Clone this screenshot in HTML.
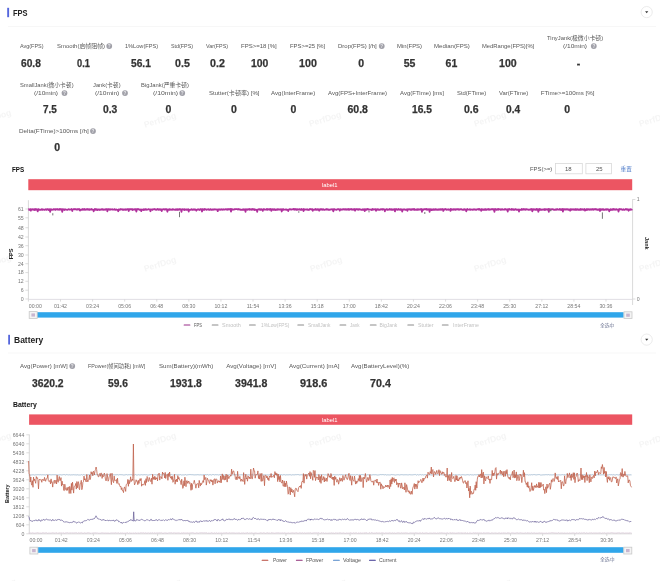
<!DOCTYPE html>
<html><head><meta charset="utf-8"><style>
html,body{margin:0;padding:0;background:#fff;width:660px;height:581px;overflow:hidden}
.t{position:absolute;white-space:nowrap}
svg{position:absolute;left:0;top:0}
</style></head><body>
<svg width="660" height="581" viewBox="0 0 660 581">
<text x="-5" y="120" font-size="8.6" font-weight="bold" fill="#f5f5f5" text-anchor="middle" transform="rotate(-17 -5 117)" font-family="Liberation Sans">PerfDog</text><text x="160" y="123" font-size="8.6" font-weight="bold" fill="#f5f5f5" text-anchor="middle" transform="rotate(-17 160 120)" font-family="Liberation Sans">PerfDog</text><text x="325" y="122" font-size="8.6" font-weight="bold" fill="#f5f5f5" text-anchor="middle" transform="rotate(-17 325 119)" font-family="Liberation Sans">PerfDog</text><text x="490" y="122" font-size="8.6" font-weight="bold" fill="#f5f5f5" text-anchor="middle" transform="rotate(-17 490 119)" font-family="Liberation Sans">PerfDog</text><text x="655" y="122" font-size="8.6" font-weight="bold" fill="#f5f5f5" text-anchor="middle" transform="rotate(-17 655 119)" font-family="Liberation Sans">PerfDog</text><text x="-5" y="265" font-size="8.6" font-weight="bold" fill="#f5f5f5" text-anchor="middle" transform="rotate(-17 -5 262)" font-family="Liberation Sans">PerfDog</text><text x="160" y="267" font-size="8.6" font-weight="bold" fill="#f5f5f5" text-anchor="middle" transform="rotate(-17 160 264)" font-family="Liberation Sans">PerfDog</text><text x="326" y="267" font-size="8.6" font-weight="bold" fill="#f5f5f5" text-anchor="middle" transform="rotate(-17 326 264)" font-family="Liberation Sans">PerfDog</text><text x="490" y="267" font-size="8.6" font-weight="bold" fill="#f5f5f5" text-anchor="middle" transform="rotate(-17 490 264)" font-family="Liberation Sans">PerfDog</text><text x="655" y="267" font-size="8.6" font-weight="bold" fill="#f5f5f5" text-anchor="middle" transform="rotate(-17 655 264)" font-family="Liberation Sans">PerfDog</text><text x="-5" y="443" font-size="8.6" font-weight="bold" fill="#f5f5f5" text-anchor="middle" transform="rotate(-17 -5 440)" font-family="Liberation Sans">PerfDog</text><text x="160" y="443" font-size="8.6" font-weight="bold" fill="#f5f5f5" text-anchor="middle" transform="rotate(-17 160 440)" font-family="Liberation Sans">PerfDog</text><text x="325" y="443" font-size="8.6" font-weight="bold" fill="#f5f5f5" text-anchor="middle" transform="rotate(-17 325 440)" font-family="Liberation Sans">PerfDog</text><text x="490" y="443" font-size="8.6" font-weight="bold" fill="#f5f5f5" text-anchor="middle" transform="rotate(-17 490 440)" font-family="Liberation Sans">PerfDog</text><text x="655" y="443" font-size="8.6" font-weight="bold" fill="#f5f5f5" text-anchor="middle" transform="rotate(-17 655 440)" font-family="Liberation Sans">PerfDog</text><text x="0" y="589" font-size="8.6" font-weight="bold" fill="#f5f5f5" text-anchor="middle" transform="rotate(-17 0 586)" font-family="Liberation Sans">PerfDog</text><text x="165" y="589" font-size="8.6" font-weight="bold" fill="#f5f5f5" text-anchor="middle" transform="rotate(-17 165 586)" font-family="Liberation Sans">PerfDog</text><text x="330" y="589" font-size="8.6" font-weight="bold" fill="#f5f5f5" text-anchor="middle" transform="rotate(-17 330 586)" font-family="Liberation Sans">PerfDog</text><text x="495" y="589" font-size="8.6" font-weight="bold" fill="#f5f5f5" text-anchor="middle" transform="rotate(-17 495 586)" font-family="Liberation Sans">PerfDog</text>
<rect x="7.2" y="7.8" width="1.9" height="9.4" fill="#5566dd" /><rect x="8.2" y="334.8" width="1.8" height="9.7" fill="#5566dd" /><rect x="8" y="26" width="648" height="0.8" fill="#f5f5f5" /><rect x="8" y="352.6" width="648" height="0.8" fill="#f5f5f5" /><circle cx="646.7" cy="12.1" r="5.6" fill="#fff" stroke="#e2e2e2" stroke-width="0.7"/><path d="M645.1 11.2 L648.3 11.2 L646.7 13.2 Z" fill="#333"/><circle cx="646.7" cy="339.6" r="5.6" fill="#fff" stroke="#e2e2e2" stroke-width="0.7"/><path d="M645.1 338.70000000000005 L648.3 338.70000000000005 L646.7 340.70000000000005 Z" fill="#333"/><circle cx="109.25" cy="46.1" r="2.9" fill="#a0a0a8"/><text x="109.25" y="47.7" font-size="4.6" font-weight="bold" text-anchor="middle" fill="#e8e8ec" font-family="Liberation Sans">?</text><circle cx="381.75" cy="46.1" r="2.9" fill="#a0a0a8"/><text x="381.75" y="47.7" font-size="4.6" font-weight="bold" text-anchor="middle" fill="#e8e8ec" font-family="Liberation Sans">?</text><circle cx="593.8" cy="46.1" r="2.9" fill="#a0a0a8"/><text x="593.8" y="47.7" font-size="4.6" font-weight="bold" text-anchor="middle" fill="#e8e8ec" font-family="Liberation Sans">?</text><circle cx="64.5" cy="93.1" r="2.9" fill="#a0a0a8"/><text x="64.5" y="94.69999999999999" font-size="4.6" font-weight="bold" text-anchor="middle" fill="#e8e8ec" font-family="Liberation Sans">?</text><circle cx="125.0" cy="93.1" r="2.9" fill="#a0a0a8"/><text x="125.0" y="94.69999999999999" font-size="4.6" font-weight="bold" text-anchor="middle" fill="#e8e8ec" font-family="Liberation Sans">?</text><circle cx="182.25" cy="93.1" r="2.9" fill="#a0a0a8"/><text x="182.25" y="94.69999999999999" font-size="4.6" font-weight="bold" text-anchor="middle" fill="#e8e8ec" font-family="Liberation Sans">?</text><circle cx="93" cy="131.1" r="2.9" fill="#a0a0a8"/><text x="93" y="132.7" font-size="4.6" font-weight="bold" text-anchor="middle" fill="#e8e8ec" font-family="Liberation Sans">?</text><circle cx="72.25" cy="366.1" r="2.9" fill="#a0a0a8"/><text x="72.25" y="367.70000000000005" font-size="4.6" font-weight="bold" text-anchor="middle" fill="#e8e8ec" font-family="Liberation Sans">?</text><rect x="555.4" y="163.4" width="26.900000000000045" height="10.4" fill="#fff" stroke="#d9d9d9" stroke-width="0.8"/><rect x="585.9" y="163.4" width="25.499999999999954" height="10.4" fill="#fff" stroke="#d9d9d9" stroke-width="0.8"/><rect x="28.3" y="179.2" width="603.9" height="11" fill="#ec5562" /><rect x="29.1" y="414.4" width="603.1" height="10.4" fill="#ec5562" /><line x1="28.4" y1="200.2" x2="28.4" y2="299.4" stroke="#cfcfcf" stroke-width="0.8" /><line x1="632.6" y1="199.3" x2="632.6" y2="299.4" stroke="#cfcfcf" stroke-width="0.8" /><line x1="28.4" y1="299.4" x2="632.6" y2="299.4" stroke="#d9d7dd" stroke-width="0.8" /><line x1="632.6" y1="299.4" x2="632.6" y2="305" stroke="#cfcfcf" stroke-width="0.8" /><line x1="28.4" y1="299.4" x2="28.4" y2="301.6" stroke="#cfcfcf" stroke-width="0.7" /><line x1="25.4" y1="209" x2="28.4" y2="209" stroke="#cfcfcf" stroke-width="0.7" /><line x1="25.4" y1="217.8" x2="28.4" y2="217.8" stroke="#cfcfcf" stroke-width="0.7" /><line x1="25.4" y1="227.7" x2="28.4" y2="227.7" stroke="#cfcfcf" stroke-width="0.7" /><line x1="25.4" y1="237" x2="28.4" y2="237" stroke="#cfcfcf" stroke-width="0.7" /><line x1="25.4" y1="245.7" x2="28.4" y2="245.7" stroke="#cfcfcf" stroke-width="0.7" /><line x1="25.4" y1="255" x2="28.4" y2="255" stroke="#cfcfcf" stroke-width="0.7" /><line x1="25.4" y1="263.7" x2="28.4" y2="263.7" stroke="#cfcfcf" stroke-width="0.7" /><line x1="25.4" y1="272.6" x2="28.4" y2="272.6" stroke="#cfcfcf" stroke-width="0.7" /><line x1="25.4" y1="281.3" x2="28.4" y2="281.3" stroke="#cfcfcf" stroke-width="0.7" /><line x1="25.4" y1="290.2" x2="28.4" y2="290.2" stroke="#cfcfcf" stroke-width="0.7" /><line x1="25.4" y1="299" x2="28.4" y2="299" stroke="#cfcfcf" stroke-width="0.7" /><line x1="632.6" y1="199.5" x2="635.4" y2="199.5" stroke="#cfcfcf" stroke-width="0.7" /><line x1="632.6" y1="299" x2="635.4" y2="299" stroke="#cfcfcf" stroke-width="0.7" /><line x1="60.5" y1="299.4" x2="60.5" y2="301.6" stroke="#cfcfcf" stroke-width="0.7" /><line x1="61.3" y1="533.8" x2="61.3" y2="536" stroke="#cfcfcf" stroke-width="0.7" /><line x1="92.58823529411765" y1="299.4" x2="92.58823529411765" y2="301.6" stroke="#cfcfcf" stroke-width="0.7" /><line x1="93.38823529411765" y1="533.8" x2="93.38823529411765" y2="536" stroke="#cfcfcf" stroke-width="0.7" /><line x1="124.67647058823529" y1="299.4" x2="124.67647058823529" y2="301.6" stroke="#cfcfcf" stroke-width="0.7" /><line x1="125.47647058823529" y1="533.8" x2="125.47647058823529" y2="536" stroke="#cfcfcf" stroke-width="0.7" /><line x1="156.76470588235293" y1="299.4" x2="156.76470588235293" y2="301.6" stroke="#cfcfcf" stroke-width="0.7" /><line x1="157.56470588235294" y1="533.8" x2="157.56470588235294" y2="536" stroke="#cfcfcf" stroke-width="0.7" /><line x1="188.85294117647058" y1="299.4" x2="188.85294117647058" y2="301.6" stroke="#cfcfcf" stroke-width="0.7" /><line x1="189.6529411764706" y1="533.8" x2="189.6529411764706" y2="536" stroke="#cfcfcf" stroke-width="0.7" /><line x1="220.94117647058823" y1="299.4" x2="220.94117647058823" y2="301.6" stroke="#cfcfcf" stroke-width="0.7" /><line x1="221.74117647058824" y1="533.8" x2="221.74117647058824" y2="536" stroke="#cfcfcf" stroke-width="0.7" /><line x1="253.02941176470586" y1="299.4" x2="253.02941176470586" y2="301.6" stroke="#cfcfcf" stroke-width="0.7" /><line x1="253.82941176470587" y1="533.8" x2="253.82941176470587" y2="536" stroke="#cfcfcf" stroke-width="0.7" /><line x1="285.11764705882354" y1="299.4" x2="285.11764705882354" y2="301.6" stroke="#cfcfcf" stroke-width="0.7" /><line x1="285.91764705882355" y1="533.8" x2="285.91764705882355" y2="536" stroke="#cfcfcf" stroke-width="0.7" /><line x1="317.20588235294116" y1="299.4" x2="317.20588235294116" y2="301.6" stroke="#cfcfcf" stroke-width="0.7" /><line x1="318.00588235294117" y1="533.8" x2="318.00588235294117" y2="536" stroke="#cfcfcf" stroke-width="0.7" /><line x1="349.2941176470588" y1="299.4" x2="349.2941176470588" y2="301.6" stroke="#cfcfcf" stroke-width="0.7" /><line x1="350.0941176470588" y1="533.8" x2="350.0941176470588" y2="536" stroke="#cfcfcf" stroke-width="0.7" /><line x1="381.38235294117646" y1="299.4" x2="381.38235294117646" y2="301.6" stroke="#cfcfcf" stroke-width="0.7" /><line x1="382.1823529411765" y1="533.8" x2="382.1823529411765" y2="536" stroke="#cfcfcf" stroke-width="0.7" /><line x1="413.4705882352941" y1="299.4" x2="413.4705882352941" y2="301.6" stroke="#cfcfcf" stroke-width="0.7" /><line x1="414.2705882352941" y1="533.8" x2="414.2705882352941" y2="536" stroke="#cfcfcf" stroke-width="0.7" /><line x1="445.5588235294117" y1="299.4" x2="445.5588235294117" y2="301.6" stroke="#cfcfcf" stroke-width="0.7" /><line x1="446.3588235294117" y1="533.8" x2="446.3588235294117" y2="536" stroke="#cfcfcf" stroke-width="0.7" /><line x1="477.6470588235294" y1="299.4" x2="477.6470588235294" y2="301.6" stroke="#cfcfcf" stroke-width="0.7" /><line x1="478.4470588235294" y1="533.8" x2="478.4470588235294" y2="536" stroke="#cfcfcf" stroke-width="0.7" /><line x1="509.735294117647" y1="299.4" x2="509.735294117647" y2="301.6" stroke="#cfcfcf" stroke-width="0.7" /><line x1="510.535294117647" y1="533.8" x2="510.535294117647" y2="536" stroke="#cfcfcf" stroke-width="0.7" /><line x1="541.8235294117646" y1="299.4" x2="541.8235294117646" y2="301.6" stroke="#cfcfcf" stroke-width="0.7" /><line x1="542.6235294117646" y1="533.8" x2="542.6235294117646" y2="536" stroke="#cfcfcf" stroke-width="0.7" /><line x1="573.9117647058823" y1="299.4" x2="573.9117647058823" y2="301.6" stroke="#cfcfcf" stroke-width="0.7" /><line x1="574.7117647058823" y1="533.8" x2="574.7117647058823" y2="536" stroke="#cfcfcf" stroke-width="0.7" /><line x1="606.0" y1="299.4" x2="606.0" y2="301.6" stroke="#cfcfcf" stroke-width="0.7" /><line x1="606.8" y1="533.8" x2="606.8" y2="536" stroke="#cfcfcf" stroke-width="0.7" /><line x1="29.3" y1="434.5" x2="29.3" y2="533.8" stroke="#cfcfcf" stroke-width="0.8" /><line x1="29.3" y1="533.8" x2="632" y2="533.8" stroke="#cfcfcf" stroke-width="0.8" /><line x1="26.3" y1="434.8" x2="29.3" y2="434.8" stroke="#cfcfcf" stroke-width="0.7" /><line x1="26.3" y1="443.8" x2="29.3" y2="443.8" stroke="#cfcfcf" stroke-width="0.7" /><line x1="26.3" y1="452.8" x2="29.3" y2="452.8" stroke="#cfcfcf" stroke-width="0.7" /><line x1="26.3" y1="461.8" x2="29.3" y2="461.8" stroke="#cfcfcf" stroke-width="0.7" /><line x1="26.3" y1="470.8" x2="29.3" y2="470.8" stroke="#cfcfcf" stroke-width="0.7" /><line x1="26.3" y1="479.8" x2="29.3" y2="479.8" stroke="#cfcfcf" stroke-width="0.7" /><line x1="26.3" y1="488.8" x2="29.3" y2="488.8" stroke="#cfcfcf" stroke-width="0.7" /><line x1="26.3" y1="497.8" x2="29.3" y2="497.8" stroke="#cfcfcf" stroke-width="0.7" /><line x1="26.3" y1="506.8" x2="29.3" y2="506.8" stroke="#cfcfcf" stroke-width="0.7" /><line x1="26.3" y1="515.8" x2="29.3" y2="515.8" stroke="#cfcfcf" stroke-width="0.7" /><line x1="26.3" y1="524.8" x2="29.3" y2="524.8" stroke="#cfcfcf" stroke-width="0.7" /><line x1="26.3" y1="533.8" x2="29.3" y2="533.8" stroke="#cfcfcf" stroke-width="0.7" /><rect x="36.4" y="312.2" width="587.2" height="5.4" fill="#30a6ea" /><rect x="36.4" y="547.2" width="587.2" height="5.6" fill="#30a6ea" /><rect x="29.2" y="311.59999999999997" width="8.0" height="6.8" fill="#f4f4f4" stroke="#c8c8c8" stroke-width="0.8"/><rect x="31.400000000000002" y="313.4" width="3.6" height="3.2" fill="#c9b6d0"/><rect x="624.0" y="311.79999999999995" width="8.0" height="6.8" fill="#f4f4f4" stroke="#c8c8c8" stroke-width="0.8"/><rect x="626.2" y="313.59999999999997" width="3.6" height="3.2" fill="#c9b6d0"/><rect x="29.9" y="547.1999999999999" width="8.0" height="6.8" fill="#f4f4f4" stroke="#c8c8c8" stroke-width="0.8"/><rect x="32.1" y="549.0" width="3.6" height="3.2" fill="#c9b6d0"/><rect x="623.8" y="547.1999999999999" width="8.0" height="6.8" fill="#f4f4f4" stroke="#c8c8c8" stroke-width="0.8"/><rect x="626.0" y="549.0" width="3.6" height="3.2" fill="#c9b6d0"/><rect x="183.6" y="324.5" width="6.8" height="1.0" rx="0.5" fill="#9a2f8a"/><rect x="211.7" y="324.5" width="6.8" height="1.0" rx="0.5" fill="#8c8c8c"/><rect x="249" y="324.5" width="6.8" height="1.0" rx="0.5" fill="#8c8c8c"/><rect x="297.3" y="324.5" width="6.8" height="1.0" rx="0.5" fill="#8c8c8c"/><rect x="339.5" y="324.5" width="6.8" height="1.0" rx="0.5" fill="#8c8c8c"/><rect x="369.8" y="324.5" width="6.8" height="1.0" rx="0.5" fill="#8c8c8c"/><rect x="407.3" y="324.5" width="6.8" height="1.0" rx="0.5" fill="#8c8c8c"/><rect x="441.8" y="324.5" width="6.8" height="1.0" rx="0.5" fill="#8c8c8c"/><rect x="261.6" y="559.7" width="6.8" height="1.0" rx="0.5" fill="#b84a3c"/><rect x="295.9" y="559.7" width="6.8" height="1.0" rx="0.5" fill="#8e2f78"/><rect x="333" y="559.7" width="6.8" height="1.0" rx="0.5" fill="#4f86c8"/><rect x="369" y="559.7" width="6.8" height="1.0" rx="0.5" fill="#3b3590"/><polyline points="28.40,209.46 28.80,209.26 29.21,209.94 29.61,209.76 30.01,209.16 30.41,209.20 30.82,210.64 31.22,209.38 31.62,209.55 32.03,209.40 32.43,209.15 32.83,209.67 33.23,209.45 33.64,209.70 34.04,209.22 34.44,209.95 34.84,209.30 35.25,209.04 35.65,209.94 36.05,209.39 36.46,209.34 36.86,209.14 37.26,209.40 37.66,211.45 38.07,209.57 38.47,209.04 38.87,209.09 39.28,209.83 39.68,209.87 40.08,209.87 40.48,209.94 40.89,209.53 41.29,209.83 41.69,209.13 42.10,209.33 42.50,209.84 42.90,209.44 43.30,209.65 43.71,209.49 44.11,209.75 44.51,209.80 44.91,209.79 45.32,209.60 45.72,209.28 46.12,209.43 46.53,209.92 46.93,209.28 47.33,209.12 47.73,209.22 48.14,209.20 48.54,209.96 48.94,209.52 49.35,209.90 49.75,209.23 50.15,211.93 50.55,209.28 50.96,209.72 51.36,209.29 51.76,209.66 52.17,209.92 52.57,209.59 52.97,209.67 53.37,209.10 53.78,209.68 54.18,209.48 54.58,209.43 54.98,209.05 55.39,209.87 55.79,209.38 56.19,209.47 56.60,209.26 57.00,209.03 57.40,209.66 57.80,209.29 58.21,209.46 58.61,209.42 59.01,209.90 59.42,209.18 59.82,209.02 60.22,209.62 60.62,209.66 61.03,209.01 61.43,209.86 61.83,209.89 62.24,211.84 62.64,209.18 63.04,209.23 63.44,209.53 63.85,209.36 64.25,209.94 64.65,209.34 65.05,209.54 65.46,209.46 65.86,209.59 66.26,209.58 66.67,209.75 67.07,209.92 67.47,209.55 67.87,209.73 68.28,209.28 68.68,209.18 69.08,209.27 69.49,209.52 69.89,209.74 70.29,209.59 70.69,209.49 71.10,209.35 71.50,209.04 71.90,209.88 72.31,211.01 72.71,209.49 73.11,209.27 73.51,209.11 73.92,209.21 74.32,209.36 74.72,209.23 75.13,209.32 75.53,209.14 75.93,209.29 76.33,209.31 76.74,209.73 77.14,209.08 77.54,209.59 77.94,209.37 78.35,209.17 78.75,209.03 79.15,209.01 79.56,209.96 79.96,210.64 80.36,209.66 80.76,209.59 81.17,209.82 81.57,209.43 81.97,209.89 82.38,209.67 82.78,209.05 83.18,209.25 83.58,209.52 83.99,209.86 84.39,209.04 84.79,209.29 85.20,209.77 85.60,209.64 86.00,209.35 86.40,209.31 86.81,209.71 87.21,209.05 87.61,209.65 88.01,209.72 88.42,209.15 88.82,209.82 89.22,209.31 89.63,209.77 90.03,209.39 90.43,209.70 90.83,209.60 91.24,209.06 91.64,209.51 92.04,209.54 92.45,209.37 92.85,209.69 93.25,209.80 93.65,211.30 94.06,209.70 94.46,209.78 94.86,209.04 95.27,209.93 95.67,209.18 96.07,209.06 96.47,209.28 96.88,209.94 97.28,209.48 97.68,209.93 98.08,209.38 98.49,209.29 98.89,209.73 99.29,209.96 99.70,209.44 100.10,209.87 100.50,209.67 100.90,209.53 101.31,209.10 101.71,209.61 102.11,209.83 102.52,209.20 102.92,209.17 103.32,209.45 103.72,209.92 104.13,209.78 104.53,209.58 104.93,209.43 105.34,209.75 105.74,209.19 106.14,209.15 106.54,209.07 106.95,209.11 107.35,211.31 107.75,209.40 108.15,209.89 108.56,209.10 108.96,209.24 109.36,209.23 109.77,209.78 110.17,209.91 110.57,209.18 110.97,209.38 111.38,209.37 111.78,209.51 112.18,209.19 112.59,209.64 112.99,209.70 113.39,209.62 113.79,209.68 114.20,209.36 114.60,209.11 115.00,209.89 115.41,209.90 115.81,209.47 116.21,209.31 116.61,209.78 117.02,209.70 117.42,209.91 117.82,209.93 118.22,211.23 118.63,209.31 119.03,209.33 119.43,209.81 119.84,209.86 120.24,209.07 120.64,209.44 121.04,209.57 121.45,209.30 121.85,209.26 122.25,209.46 122.66,209.89 123.06,209.17 123.46,209.76 123.86,209.92 124.27,209.62 124.67,209.45 125.07,209.36 125.48,209.80 125.88,209.28 126.28,209.49 126.68,209.81 127.09,209.14 127.49,209.19 127.89,209.09 128.29,209.31 128.70,210.97 129.10,209.21 129.50,209.09 129.91,209.45 130.31,209.09 130.71,209.03 131.11,209.59 131.52,209.06 131.92,209.06 132.32,209.20 132.73,209.95 133.13,209.62 133.53,209.37 133.93,209.38 134.34,209.24 134.74,209.34 135.14,209.81 135.55,209.07 135.95,209.45 136.35,211.67 136.75,209.76 137.16,209.00 137.56,209.43 137.96,209.22 138.36,209.25 138.77,209.11 139.17,209.61 139.57,209.88 139.98,209.57 140.38,209.79 140.78,209.44 141.18,211.15 141.59,209.61 141.99,209.84 142.39,209.94 142.80,209.56 143.20,209.40 143.60,209.94 144.00,209.32 144.41,209.76 144.81,209.86 145.21,209.07 145.62,209.46 146.02,209.10 146.42,209.47 146.82,209.84 147.23,209.73 147.63,209.55 148.03,209.35 148.43,209.22 148.84,209.24 149.24,209.34 149.64,209.72 150.05,209.55 150.45,211.22 150.85,209.49 151.25,209.71 151.66,209.45 152.06,209.52 152.46,209.93 152.87,209.17 153.27,209.40 153.67,209.19 154.07,209.25 154.48,209.26 154.88,209.01 155.28,209.60 155.69,209.58 156.09,209.96 156.49,209.32 156.89,209.40 157.30,209.41 157.70,209.00 158.10,209.77 158.51,209.74 158.91,209.26 159.31,209.18 159.71,209.50 160.12,209.91 160.52,209.61 160.92,209.17 161.32,209.48 161.73,211.13 162.13,209.59 162.53,209.36 162.94,209.39 163.34,209.30 163.74,209.13 164.14,209.24 164.55,209.60 164.95,209.72 165.35,209.21 165.76,209.20 166.16,209.07 166.56,209.77 166.96,209.15 167.37,211.72 167.77,209.89 168.17,209.67 168.58,209.35 168.98,209.82 169.38,209.16 169.78,209.71 170.19,209.31 170.59,209.68 170.99,209.75 171.39,209.76 171.80,209.48 172.20,209.28 172.60,209.75 173.01,209.30 173.41,209.64 173.81,209.34 174.21,209.61 174.62,209.78 175.02,209.83 175.42,209.91 175.83,209.29 176.23,209.56 176.63,209.84 177.03,209.12 177.44,209.33 177.84,209.94 178.24,209.27 178.65,209.39 179.05,209.54 179.45,209.48 179.85,209.04 180.26,209.60 180.66,209.35 181.06,209.35 181.46,211.74 181.87,209.63 182.27,209.24 182.67,209.35 183.08,209.52 183.48,209.47 183.88,209.75 184.28,209.20 184.69,209.94 185.09,209.34 185.49,209.53 185.90,209.75 186.30,209.40 186.70,209.40 187.10,209.88 187.51,209.49 187.91,209.80 188.31,209.19 188.72,211.50 189.12,209.65 189.52,209.76 189.92,209.92 190.33,209.78 190.73,209.82 191.13,209.36 191.53,209.15 191.94,209.75 192.34,209.86 192.74,209.45 193.15,209.85 193.55,209.57 193.95,209.23 194.35,209.77 194.76,209.29 195.16,209.44 195.56,209.88 195.97,209.73 196.37,210.73 196.77,209.87 197.17,209.77 197.58,209.41 197.98,209.18 198.38,209.46 198.79,209.32 199.19,209.95 199.59,209.67 199.99,209.66 200.40,209.08 200.80,209.62 201.20,209.21 201.60,209.93 202.01,211.50 202.41,209.10 202.81,209.22 203.22,209.40 203.62,209.79 204.02,209.07 204.42,209.89 204.83,209.03 205.23,209.22 205.63,209.27 206.04,209.45 206.44,209.81 206.84,209.63 207.24,209.32 207.65,209.33 208.05,209.59 208.45,209.19 208.86,209.91 209.26,209.69 209.66,209.88 210.06,209.65 210.47,209.20 210.87,209.24 211.27,209.82 211.67,209.67 212.08,209.86 212.48,209.33 212.88,209.54 213.29,209.74 213.69,209.60 214.09,209.13 214.49,209.55 214.90,209.30 215.30,209.36 215.70,209.51 216.11,209.43 216.51,209.61 216.91,209.77 217.31,209.49 217.72,211.17 218.12,209.65 218.52,209.78 218.93,209.08 219.33,209.55 219.73,209.77 220.13,209.93 220.54,209.76 220.94,209.13 221.34,209.64 221.74,209.32 222.15,209.74 222.55,209.34 222.95,209.53 223.36,209.25 223.76,209.45 224.16,209.60 224.56,209.69 224.97,209.39 225.37,209.16 225.77,209.30 226.18,209.50 226.58,209.65 226.98,209.10 227.38,209.15 227.79,209.82 228.19,209.31 228.59,209.22 229.00,209.31 229.40,209.03 229.80,209.12 230.20,209.73 230.61,209.00 231.01,211.55 231.41,209.60 231.81,209.02 232.22,209.80 232.62,209.58 233.02,209.36 233.43,209.70 233.83,209.71 234.23,209.20 234.63,209.37 235.04,209.25 235.44,209.20 235.84,209.12 236.25,209.10 236.65,209.17 237.05,209.02 237.45,209.48 237.86,209.29 238.26,209.47 238.66,209.03 239.07,209.33 239.47,209.55 239.87,209.32 240.27,209.68 240.68,209.84 241.08,209.59 241.48,209.83 241.88,209.96 242.29,209.87 242.69,209.53 243.09,209.23 243.50,209.92 243.90,209.35 244.30,209.86 244.70,209.47 245.11,209.68 245.51,211.83 245.91,209.28 246.32,209.57 246.72,209.59 247.12,209.26 247.52,209.85 247.93,209.63 248.33,209.29 248.73,209.16 249.14,209.02 249.54,209.72 249.94,209.36 250.34,209.66 250.75,209.29 251.15,209.15 251.55,209.83 251.96,209.63 252.36,209.06 252.76,209.62 253.16,209.35 253.57,209.17 253.97,209.69 254.37,209.21 254.77,209.96 255.18,209.64 255.58,209.80 255.98,209.63 256.39,209.76 256.79,209.94 257.19,211.88 257.59,209.80 258.00,209.41 258.40,209.43 258.80,209.14 259.21,209.15 259.61,209.36 260.01,209.80 260.41,209.23 260.82,209.87 261.22,209.07 261.62,209.67 262.03,209.72 262.43,209.75 262.83,210.88 263.23,209.20 263.64,209.14 264.04,209.24 264.44,209.26 264.84,209.73 265.25,209.65 265.65,209.67 266.05,209.55 266.46,209.12 266.86,209.00 267.26,209.88 267.66,209.03 268.07,209.08 268.47,209.52 268.87,209.30 269.28,209.21 269.68,209.78 270.08,209.37 270.48,209.02 270.89,209.12 271.29,210.93 271.69,209.88 272.10,209.27 272.50,209.49 272.90,209.09 273.30,209.80 273.71,209.43 274.11,209.85 274.51,209.19 274.91,209.27 275.32,209.93 275.72,209.67 276.12,209.83 276.53,209.35 276.93,209.36 277.33,209.90 277.73,209.05 278.14,209.03 278.54,209.54 278.94,209.41 279.35,209.61 279.75,209.38 280.15,209.58 280.55,209.54 280.96,209.24 281.36,209.78 281.76,211.46 282.17,209.23 282.57,209.75 282.97,209.90 283.37,209.09 283.78,209.81 284.18,209.57 284.58,209.66 284.98,209.71 285.39,209.62 285.79,209.45 286.19,209.85 286.60,209.45 287.00,209.91 287.40,209.89 287.80,209.77 288.21,211.05 288.61,209.63 289.01,209.68 289.42,209.16 289.82,209.33 290.22,209.51 290.62,209.22 291.03,209.30 291.43,209.66 291.83,209.37 292.24,209.25 292.64,209.45 293.04,209.24 293.44,209.35 293.85,209.07 294.25,209.71 294.65,209.32 295.05,209.02 295.46,209.45 295.86,209.09 296.26,209.87 296.67,209.27 297.07,209.71 297.47,209.24 297.87,209.56 298.28,209.45 298.68,209.72 299.08,209.72 299.49,209.13 299.89,209.34 300.29,209.36 300.69,209.85 301.10,209.68 301.50,209.03 301.90,209.77 302.31,209.45 302.71,209.29 303.11,209.47 303.51,211.06 303.92,209.03 304.32,209.21 304.72,209.73 305.12,209.55 305.53,209.56 305.93,209.30 306.33,209.31 306.74,209.71 307.14,209.30 307.54,209.55 307.94,209.95 308.35,209.68 308.75,209.60 309.15,209.77 309.56,209.32 309.96,209.01 310.36,209.07 310.76,209.36 311.17,209.14 311.57,209.49 311.97,209.40 312.38,209.10 312.78,210.77 313.18,209.61 313.58,209.60 313.99,209.63 314.39,209.55 314.79,209.91 315.19,209.31 315.60,209.04 316.00,209.74 316.40,209.78 316.81,209.64 317.21,209.20 317.61,209.75 318.01,209.22 318.42,209.80 318.82,209.39 319.22,210.69 319.63,209.31 320.03,209.88 320.43,209.04 320.83,209.15 321.24,209.50 321.64,209.14 322.04,209.38 322.45,209.80 322.85,209.58 323.25,209.17 323.65,209.52 324.06,209.92 324.46,209.80 324.86,209.78 325.26,209.40 325.67,209.34 326.07,209.53 326.47,209.57 326.88,209.04 327.28,209.63 327.68,209.32 328.08,209.77 328.49,209.47 328.89,209.79 329.29,209.85 329.70,209.64 330.10,209.85 330.50,209.60 330.90,209.33 331.31,209.43 331.71,209.20 332.11,209.50 332.52,209.88 332.92,209.26 333.32,211.42 333.72,209.24 334.13,209.02 334.53,209.46 334.93,209.72 335.34,209.62 335.74,209.48 336.14,209.66 336.54,209.87 336.95,209.58 337.35,209.33 337.75,209.18 338.15,209.23 338.56,209.11 338.96,209.19 339.36,209.57 339.77,210.64 340.17,209.91 340.57,209.20 340.97,209.28 341.38,209.71 341.78,209.51 342.18,209.70 342.59,209.20 342.99,209.55 343.39,209.21 343.79,209.07 344.20,209.21 344.60,209.60 345.00,209.63 345.41,209.05 345.81,209.09 346.21,209.78 346.61,209.61 347.02,209.20 347.42,209.23 347.82,209.69 348.22,209.53 348.63,209.04 349.03,209.88 349.43,209.70 349.84,209.32 350.24,209.09 350.64,209.05 351.04,209.51 351.45,209.20 351.85,209.03 352.25,209.65 352.66,209.74 353.06,209.71 353.46,209.21 353.86,209.83 354.27,209.44 354.67,209.07 355.07,210.68 355.48,209.36 355.88,209.45 356.28,209.03 356.68,209.47 357.09,209.49 357.49,209.09 357.89,209.24 358.29,209.82 358.70,209.19 359.10,209.58 359.50,209.03 359.91,209.04 360.31,209.49 360.71,209.56 361.11,209.74 361.52,209.70 361.92,209.76 362.32,209.80 362.73,209.26 363.13,209.91 363.53,209.39 363.93,209.39 364.34,209.25 364.74,211.18 365.14,209.07 365.55,209.69 365.95,209.87 366.35,209.40 366.75,209.70 367.16,209.01 367.56,209.08 367.96,209.30 368.36,209.16 368.77,209.73 369.17,209.50 369.57,209.59 369.98,209.63 370.38,209.60 370.78,209.50 371.18,209.33 371.59,209.94 371.99,209.44 372.39,209.84 372.80,209.03 373.20,209.43 373.60,209.40 374.00,209.66 374.41,209.28 374.81,209.28 375.21,209.09 375.62,209.40 376.02,210.79 376.42,209.36 376.82,209.91 377.23,209.25 377.63,209.67 378.03,209.27 378.43,209.84 378.84,209.39 379.24,209.80 379.64,209.93 380.05,209.71 380.45,209.15 380.85,209.59 381.25,209.46 381.66,209.20 382.06,209.02 382.46,209.71 382.87,209.29 383.27,209.21 383.67,209.20 384.07,209.63 384.48,209.51 384.88,211.31 385.28,209.72 385.69,209.50 386.09,209.35 386.49,209.14 386.89,209.73 387.30,209.32 387.70,209.75 388.10,209.81 388.50,209.50 388.91,209.34 389.31,209.35 389.71,209.05 390.12,209.80 390.52,209.45 390.92,209.50 391.32,209.71 391.73,209.08 392.13,209.82 392.53,209.71 392.94,209.92 393.34,209.34 393.74,209.33 394.14,209.75 394.55,209.08 394.95,211.46 395.35,209.77 395.76,209.06 396.16,209.14 396.56,209.66 396.96,209.13 397.37,209.84 397.77,209.63 398.17,209.56 398.57,209.04 398.98,209.68 399.38,209.59 399.78,209.76 400.19,209.17 400.59,209.79 400.99,209.15 401.39,209.63 401.80,209.43 402.20,211.63 402.60,209.71 403.01,209.45 403.41,209.35 403.81,209.41 404.21,209.57 404.62,209.34 405.02,209.66 405.42,209.81 405.83,209.95 406.23,209.38 406.63,209.41 407.03,209.19 407.44,210.80 407.84,209.32 408.24,209.53 408.64,209.46 409.05,209.16 409.45,209.46 409.85,209.54 410.26,209.34 410.66,209.82 411.06,209.12 411.46,209.46 411.87,209.92 412.27,209.50 412.67,209.05 413.08,209.02 413.48,209.55 413.88,209.71 414.28,209.06 414.69,209.69 415.09,209.95 415.49,209.73 415.90,209.51 416.30,209.31 416.70,209.90 417.10,209.64 417.51,209.26 417.91,209.63 418.31,209.79 418.72,209.28 419.12,209.54 419.52,209.29 419.92,209.50 420.33,209.18 420.73,209.47 421.13,209.02 421.53,209.18 421.94,211.75 422.34,209.49 422.74,209.38 423.15,209.60 423.55,209.89 423.95,209.11 424.35,209.19 424.76,209.22 425.16,209.14 425.56,209.43 425.97,209.01 426.37,209.51 426.77,209.02 427.17,209.89 427.58,209.60 427.98,209.41 428.38,209.17 428.79,209.46 429.19,209.20 429.59,211.87 429.99,209.31 430.40,209.20 430.80,209.39 431.20,209.94 431.60,209.33 432.01,209.96 432.41,209.67 432.81,209.85 433.22,209.23 433.62,209.80 434.02,209.27 434.42,209.89 434.83,209.76 435.23,209.29 435.63,209.07 436.04,209.89 436.44,209.37 436.84,209.58 437.24,209.36 437.65,209.89 438.05,209.95 438.45,209.89 438.86,209.10 439.26,209.49 439.66,209.37 440.06,209.83 440.47,209.30 440.87,209.10 441.27,209.77 441.67,209.21 442.08,209.15 442.48,209.01 442.88,209.42 443.29,210.89 443.69,209.63 444.09,209.21 444.49,209.66 444.90,209.36 445.30,209.36 445.70,209.01 446.11,209.20 446.51,209.87 446.91,209.79 447.31,209.62 447.72,209.58 448.12,209.27 448.52,209.71 448.93,209.42 449.33,209.53 449.73,209.67 450.13,209.34 450.54,210.93 450.94,209.02 451.34,209.84 451.74,209.10 452.15,209.35 452.55,209.52 452.95,209.89 453.36,209.34 453.76,209.19 454.16,209.63 454.56,209.28 454.97,209.45 455.37,209.88 455.77,209.14 456.18,209.66 456.58,209.50 456.98,209.23 457.38,209.12 457.79,209.14 458.19,209.61 458.59,209.15 459.00,209.82 459.40,209.43 459.80,209.55 460.20,209.13 460.61,209.27 461.01,209.33 461.41,209.18 461.81,209.63 462.22,209.54 462.62,209.86 463.02,209.63 463.43,209.77 463.83,209.26 464.23,209.84 464.63,209.08 465.04,209.39 465.44,209.53 465.84,209.85 466.25,211.32 466.65,209.42 467.05,209.82 467.45,209.02 467.86,209.62 468.26,209.54 468.66,209.69 469.07,209.60 469.47,209.70 469.87,209.14 470.27,209.89 470.68,209.61 471.08,209.39 471.48,209.50 471.88,209.65 472.29,209.50 472.69,209.90 473.09,209.67 473.50,209.54 473.90,209.22 474.30,209.55 474.70,209.56 475.11,209.33 475.51,209.70 475.91,209.43 476.32,209.78 476.72,209.37 477.12,209.44 477.52,209.33 477.93,209.12 478.33,209.20 478.73,209.01 479.14,209.74 479.54,209.04 479.94,209.53 480.34,209.61 480.75,209.52 481.15,210.85 481.55,209.04 481.95,209.19 482.36,209.67 482.76,209.85 483.16,209.77 483.57,209.32 483.97,209.29 484.37,209.90 484.77,209.96 485.18,209.00 485.58,209.64 485.98,209.92 486.39,209.51 486.79,209.87 487.19,209.18 487.59,209.45 488.00,209.37 488.40,209.07 488.80,209.84 489.21,209.76 489.61,209.21 490.01,209.38 490.41,209.54 490.82,209.62 491.22,209.37 491.62,209.05 492.02,209.05 492.43,209.08 492.83,209.02 493.23,209.84 493.64,209.94 494.04,209.16 494.44,211.89 494.84,209.46 495.25,209.51 495.65,209.03 496.05,209.54 496.46,209.83 496.86,209.77 497.26,209.09 497.66,209.18 498.07,209.83 498.47,209.04 498.87,209.61 499.28,209.26 499.68,209.42 500.08,209.14 500.48,209.49 500.89,209.93 501.29,209.43 501.69,209.14 502.09,209.57 502.50,209.17 502.90,209.53 503.30,209.62 503.71,209.62 504.11,209.74 504.51,209.48 504.91,209.04 505.32,209.39 505.72,209.22 506.12,209.79 506.53,209.61 506.93,209.40 507.33,209.59 507.73,211.62 508.14,209.13 508.54,209.84 508.94,209.33 509.35,209.02 509.75,209.68 510.15,209.70 510.55,209.64 510.96,209.44 511.36,209.02 511.76,209.82 512.17,209.73 512.57,209.10 512.97,209.70 513.37,209.32 513.78,209.27 514.18,209.96 514.58,209.94 514.98,209.23 515.39,209.08 515.79,209.29 516.19,209.51 516.60,209.87 517.00,209.46 517.40,209.86 517.80,209.65 518.21,209.93 518.61,209.47 519.01,211.58 519.42,209.69 519.82,209.75 520.22,209.90 520.62,209.94 521.03,209.84 521.43,209.02 521.83,209.93 522.24,209.27 522.64,209.52 523.04,209.40 523.44,209.67 523.85,209.02 524.25,209.19 524.65,209.57 525.05,209.55 525.46,209.08 525.86,209.81 526.26,209.12 526.67,209.37 527.07,209.42 527.47,209.45 527.87,209.39 528.28,209.88 528.68,209.72 529.08,209.62 529.49,209.75 529.89,209.88 530.29,209.28 530.69,209.56 531.10,209.25 531.50,209.59 531.90,209.06 532.31,211.40 532.71,209.47 533.11,209.56 533.51,209.20 533.92,209.84 534.32,209.44 534.72,209.53 535.12,209.36 535.53,209.74 535.93,209.44 536.33,209.01 536.74,209.86 537.14,209.03 537.54,209.03 537.94,209.53 538.35,211.74 538.75,209.48 539.15,209.04 539.56,209.96 539.96,209.24 540.36,209.21 540.76,209.85 541.17,209.38 541.57,209.82 541.97,209.87 542.38,209.46 542.78,209.68 543.18,209.33 543.58,209.46 543.99,209.74 544.39,209.08 544.79,209.96 545.19,209.19 545.60,209.69 546.00,209.10 546.40,209.38 546.81,209.52 547.21,209.76 547.61,209.14 548.01,209.14 548.42,209.04 548.82,211.87 549.22,209.07 549.63,209.10 550.03,209.32 550.43,209.64 550.83,209.38 551.24,209.63 551.64,209.18 552.04,209.43 552.45,209.13 552.85,209.10 553.25,209.24 553.65,209.77 554.06,209.64 554.46,209.88 554.86,209.64 555.26,209.81 555.67,209.67 556.07,209.20 556.47,209.85 556.88,209.08 557.28,209.08 557.68,209.22 558.08,209.73 558.49,209.68 558.89,209.52 559.29,209.37 559.70,209.07 560.10,209.94 560.50,209.88 560.90,209.17 561.31,209.94 561.71,209.10 562.11,209.78 562.52,209.02 562.92,211.51 563.32,209.38 563.72,209.17 564.13,209.17 564.53,209.56 564.93,209.52 565.33,209.20 565.74,209.72 566.14,209.67 566.54,209.12 566.95,209.11 567.35,209.17 567.75,209.63 568.15,209.63 568.56,209.86 568.96,209.16 569.36,209.92 569.77,209.79 570.17,210.76 570.57,209.52 570.97,209.00 571.38,209.90 571.78,209.72 572.18,209.70 572.59,209.29 572.99,209.62 573.39,209.80 573.79,209.30 574.20,209.10 574.60,209.80 575.00,209.90 575.40,209.57 575.81,209.06 576.21,209.91 576.61,209.83 577.02,209.34 577.42,209.23 577.82,209.53 578.22,209.92 578.63,209.43 579.03,209.87 579.43,209.89 579.84,209.91 580.24,209.06 580.64,209.86 581.04,209.51 581.45,209.17 581.85,209.77 582.25,209.59 582.66,209.20 583.06,209.42 583.46,209.78 583.86,209.45 584.27,209.01 584.67,209.17 585.07,210.65 585.47,209.94 585.88,209.91 586.28,209.48 586.68,209.95 587.09,209.04 587.49,209.68 587.89,209.43 588.29,209.12 588.70,209.55 589.10,209.23 589.50,209.81 589.91,209.53 590.31,209.26 590.71,209.51 591.11,209.78 591.52,209.14 591.92,209.62 592.32,209.08 592.73,209.66 593.13,209.17 593.53,209.84 593.93,209.31 594.34,209.05 594.74,209.36 595.14,209.56 595.55,209.02 595.95,209.03 596.35,209.17 596.75,209.75 597.16,209.88 597.56,209.37 597.96,209.83 598.36,209.91 598.77,209.43 599.17,209.05 599.57,209.70 599.98,210.97 600.38,209.04 600.78,209.06 601.18,209.88 601.59,209.83 601.99,209.04 602.39,209.03 602.80,209.80 603.20,209.79 603.60,209.28 604.00,209.87 604.41,209.86 604.81,209.81 605.21,209.41 605.62,209.61 606.02,209.15 606.42,209.82 606.82,209.10 607.23,209.20 607.63,209.60 608.03,209.38 608.43,209.31 608.84,209.85 609.24,211.33 609.64,209.54 610.05,209.47 610.45,209.14 610.85,209.94 611.25,209.71 611.66,209.93 612.06,209.25 612.46,209.75 612.87,209.27 613.27,209.27 613.67,209.00 614.07,209.79 614.48,209.56 614.88,209.20 615.28,209.54 615.69,209.79 616.09,209.31 616.49,209.20 616.89,209.53 617.30,209.60 617.70,209.84 618.10,209.57 618.50,211.63 618.91,209.62 619.31,209.04 619.71,209.62 620.12,209.50 620.52,209.21 620.92,209.08 621.32,209.15 621.73,209.56 622.13,209.53 622.53,209.84 622.94,209.44 623.34,209.17 623.74,209.78 624.14,209.66 624.55,209.90 624.95,209.53 625.35,209.50 625.76,209.01 626.16,209.32 626.56,209.08 626.96,209.77 627.37,209.54 627.77,209.29 628.17,209.89 628.57,210.69 628.98,209.36 629.38,209.94 629.78,209.77 630.19,209.21 630.59,209.81 630.99,209.35 631.39,209.56 631.80,209.59 632.20,209.12" fill="none" stroke="#b0309c" stroke-width="1.8" stroke-linejoin="round"/><line x1="52.8" y1="213.2" x2="52.8" y2="215.4" stroke="#666" stroke-width="0.9" /><line x1="179.5" y1="211.8" x2="179.5" y2="217.2" stroke="#666" stroke-width="0.9" /><line x1="298.8" y1="211.2" x2="298.8" y2="212.8" stroke="#666" stroke-width="0.9" /><line x1="369" y1="211" x2="369" y2="212.4" stroke="#666" stroke-width="0.9" /><line x1="424.8" y1="212" x2="424.8" y2="214" stroke="#666" stroke-width="0.9" /><line x1="602.4" y1="212.4" x2="602.4" y2="218.8" stroke="#666" stroke-width="0.9" /><rect x="549.3" y="209.6" width="2" height="1.6" fill="#777"/><polyline points="28.6,533.0 29.1,533.2 29.6,533.3 30.1,533.2 30.6,532.9 31.1,532.9 31.6,533.1 32.1,532.8 32.6,532.8 33.1,532.8 33.6,533.1 34.1,532.9 34.6,533.3 35.1,533.2 35.6,533.0 36.1,532.9 36.6,532.9 37.1,532.7 37.7,532.8 38.2,533.2 38.7,532.9 39.2,532.7 39.7,533.3 40.2,532.9 40.7,533.2 41.2,533.0 41.7,533.3 42.2,532.7 42.7,533.0 43.2,533.1 43.7,532.7 44.2,533.3 44.7,532.9 45.2,533.1 45.7,532.7 46.2,532.7 46.7,532.8 47.2,533.2 47.7,533.3 48.2,533.2 48.7,533.0 49.2,532.8 49.7,533.2 50.2,533.0 50.7,533.2 51.2,533.1 51.7,533.0 52.2,532.8 52.7,532.8 53.2,532.7 53.7,533.0 54.2,532.9 54.7,533.3 55.3,532.7 55.8,533.2 56.3,532.8 56.8,532.8 57.3,533.3 57.8,532.8 58.3,533.1 58.8,533.1 59.3,532.9 59.8,532.9 60.3,532.8 60.8,533.1 61.3,532.9 61.8,533.1 62.3,533.2 62.8,532.7 63.3,533.0 63.8,532.9 64.3,533.3 64.8,533.1 65.3,532.8 65.8,533.0 66.3,532.7 66.8,533.0 67.3,532.7 67.8,532.8 68.3,533.0 68.8,533.0 69.3,532.8 69.8,533.1 70.3,532.9 70.8,533.1 71.3,532.7 71.8,533.2 72.3,533.0 72.8,532.8 73.4,532.9 73.9,533.1 74.4,532.8 74.9,533.2 75.4,532.8 75.9,532.9 76.4,532.7 76.9,533.0 77.4,533.3 77.9,532.8 78.4,532.8 78.9,533.0 79.4,533.1 79.9,532.8 80.4,532.8 80.9,533.1 81.4,532.8 81.9,532.7 82.4,533.1 82.9,533.2 83.4,533.2 83.9,533.2 84.4,532.8 84.9,532.9 85.4,533.1 85.9,533.1 86.4,533.1 86.9,533.0 87.4,532.8 87.9,532.8 88.4,532.8 88.9,532.7 89.4,533.0 89.9,532.8 90.4,533.2 91.0,533.3 91.5,532.8 92.0,533.3 92.5,533.1 93.0,532.7 93.5,532.9 94.0,532.9 94.5,532.9 95.0,532.7 95.5,532.8 96.0,532.7 96.5,533.0 97.0,533.0 97.5,532.8 98.0,533.3 98.5,533.2 99.0,533.0 99.5,533.2 100.0,532.9 100.5,533.2 101.0,533.2 101.5,532.9 102.0,533.1 102.5,532.9 103.0,532.8 103.5,533.0 104.0,532.8 104.5,533.1 105.0,532.9 105.5,533.0 106.0,533.2 106.5,533.1 107.0,533.2 107.5,533.1 108.0,533.1 108.6,533.1 109.1,533.1 109.6,533.3 110.1,533.1 110.6,533.1 111.1,533.0 111.6,533.0 112.1,533.3 112.6,532.9 113.1,532.8 113.6,533.0 114.1,532.9 114.6,533.1 115.1,533.1 115.6,532.7 116.1,532.8 116.6,533.1 117.1,532.9 117.6,533.1 118.1,533.0 118.6,532.8 119.1,533.1 119.6,533.3 120.1,532.8 120.6,533.1 121.1,533.1 121.6,533.1 122.1,533.0 122.6,533.0 123.1,533.3 123.6,533.2 124.1,533.0 124.6,533.2 125.1,533.1 125.6,533.2 126.2,533.3 126.7,532.7 127.2,532.8 127.7,532.8 128.2,533.2 128.7,533.3 129.2,532.8 129.7,533.0 130.2,533.2 130.7,533.1 131.2,533.1 131.7,533.2 132.2,533.3 132.7,532.8 133.2,533.3 133.7,532.9 134.2,533.1 134.7,533.2 135.2,532.9 135.7,532.9 136.2,533.2 136.7,533.2 137.2,533.3 137.7,532.8 138.2,533.1 138.7,533.1 139.2,533.3 139.7,533.1 140.2,532.9 140.7,532.8 141.2,532.8 141.7,532.9 142.2,533.0 142.7,532.9 143.2,532.8 143.7,532.8 144.3,533.1 144.8,533.2 145.3,532.8 145.8,533.0 146.3,533.3 146.8,532.9 147.3,533.0 147.8,533.2 148.3,532.7 148.8,533.2 149.3,533.2 149.8,533.1 150.3,532.9 150.8,533.0 151.3,533.3 151.8,532.7 152.3,532.7 152.8,533.1 153.3,533.3 153.8,532.8 154.3,532.8 154.8,533.0 155.3,533.2 155.8,533.0 156.3,533.1 156.8,532.7 157.3,532.8 157.8,533.1 158.3,533.1 158.8,532.8 159.3,532.8 159.8,532.9 160.3,532.9 160.8,532.9 161.3,532.8 161.9,532.7 162.4,533.1 162.9,533.3 163.4,533.1 163.9,533.3 164.4,532.8 164.9,533.1 165.4,532.9 165.9,533.2 166.4,533.1 166.9,533.1 167.4,533.2 167.9,533.3 168.4,532.8 168.9,533.0 169.4,532.8 169.9,533.0 170.4,532.8 170.9,533.1 171.4,532.9 171.9,532.7 172.4,533.2 172.9,532.8 173.4,532.9 173.9,533.0 174.4,532.7 174.9,533.2 175.4,533.1 175.9,532.8 176.4,533.1 176.9,532.8 177.4,533.0 177.9,532.8 178.4,532.9 178.9,533.0 179.5,533.0 180.0,533.1 180.5,533.3 181.0,532.9 181.5,532.9 182.0,532.8 182.5,533.1 183.0,532.9 183.5,532.8 184.0,532.8 184.5,533.0 185.0,533.2 185.5,533.0 186.0,533.2 186.5,533.0 187.0,533.0 187.5,532.9 188.0,532.9 188.5,533.1 189.0,532.8 189.5,533.0 190.0,532.9 190.5,532.9 191.0,532.9 191.5,532.8 192.0,533.0 192.5,532.7 193.0,532.8 193.5,532.9 194.0,532.8 194.5,533.2 195.0,533.1 195.5,533.2 196.0,532.8 196.5,532.8 197.0,532.9 197.6,533.0 198.1,533.2 198.6,533.2 199.1,533.2 199.6,532.7 200.1,532.7 200.6,532.9 201.1,533.0 201.6,532.7 202.1,532.9 202.6,532.8 203.1,533.2 203.6,532.8 204.1,532.9 204.6,532.8 205.1,533.2 205.6,532.8 206.1,533.0 206.6,532.8 207.1,532.8 207.6,533.3 208.1,533.1 208.6,533.1 209.1,532.9 209.6,533.3 210.1,533.3 210.6,533.1 211.1,532.8 211.6,532.7 212.1,533.0 212.6,533.0 213.1,533.2 213.6,533.3 214.1,533.2 214.6,532.8 215.2,533.3 215.7,533.1 216.2,532.7 216.7,532.8 217.2,533.3 217.7,533.2 218.2,533.1 218.7,533.1 219.2,532.7 219.7,533.3 220.2,532.9 220.7,533.2 221.2,533.0 221.7,533.0 222.2,533.0 222.7,533.3 223.2,533.2 223.7,532.9 224.2,533.2 224.7,532.8 225.2,532.9 225.7,532.9 226.2,532.7 226.7,532.9 227.2,532.7 227.7,533.3 228.2,533.2 228.7,533.0 229.2,532.7 229.7,532.9 230.2,533.2 230.7,532.9 231.2,532.8 231.7,533.0 232.2,533.0 232.8,532.8 233.3,532.9 233.8,533.0 234.3,533.1 234.8,532.9 235.3,533.3 235.8,532.9 236.3,533.2 236.8,532.7 237.3,533.2 237.8,533.0 238.3,532.8 238.8,533.2 239.3,533.2 239.8,532.8 240.3,533.2 240.8,533.3 241.3,532.9 241.8,533.2 242.3,533.1 242.8,533.0 243.3,532.9 243.8,532.9 244.3,533.2 244.8,533.2 245.3,533.3 245.8,532.7 246.3,533.0 246.8,533.1 247.3,532.8 247.8,532.7 248.3,533.2 248.8,533.2 249.3,533.1 249.8,532.9 250.4,533.0 250.9,533.2 251.4,532.8 251.9,533.1 252.4,533.1 252.9,533.0 253.4,533.3 253.9,533.1 254.4,533.2 254.9,532.8 255.4,532.9 255.9,532.9 256.4,533.0 256.9,533.2 257.4,533.3 257.9,533.2 258.4,533.2 258.9,533.3 259.4,533.1 259.9,533.1 260.4,532.8 260.9,532.9 261.4,533.0 261.9,532.8 262.4,533.2 262.9,532.9 263.4,532.8 263.9,532.7 264.4,533.0 264.9,532.9 265.4,533.3 265.9,533.1 266.4,533.0 266.9,532.8 267.4,532.7 267.9,533.1 268.5,533.1 269.0,533.0 269.5,533.0 270.0,532.9 270.5,533.2 271.0,532.7 271.5,532.8 272.0,533.2 272.5,532.9 273.0,532.9 273.5,533.0 274.0,532.9 274.5,533.2 275.0,532.8 275.5,533.0 276.0,533.1 276.5,532.9 277.0,533.1 277.5,532.9 278.0,533.1 278.5,532.8 279.0,532.9 279.5,533.0 280.0,533.1 280.5,533.0 281.0,532.7 281.5,533.0 282.0,533.2 282.5,532.9 283.0,532.8 283.5,533.1 284.0,532.8 284.5,532.8 285.0,532.7 285.5,533.1 286.1,533.2 286.6,533.2 287.1,533.1 287.6,533.2 288.1,533.2 288.6,532.9 289.1,532.9 289.6,533.3 290.1,533.3 290.6,533.1 291.1,533.1 291.6,532.9 292.1,532.8 292.6,532.9 293.1,532.8 293.6,533.1 294.1,533.1 294.6,533.1 295.1,533.2 295.6,532.7 296.1,532.8 296.6,532.8 297.1,532.9 297.6,533.2 298.1,533.0 298.6,533.2 299.1,532.8 299.6,532.9 300.1,533.2 300.6,532.9 301.1,533.1 301.6,533.1 302.1,533.1 302.6,532.7 303.1,532.9 303.7,533.3 304.2,532.9 304.7,532.9 305.2,533.3 305.7,533.1 306.2,533.1 306.7,533.0 307.2,533.1 307.7,532.9 308.2,532.9 308.7,532.9 309.2,532.8 309.7,533.1 310.2,532.8 310.7,532.8 311.2,533.0 311.7,533.3 312.2,533.2 312.7,533.1 313.2,533.1 313.7,532.8 314.2,533.0 314.7,532.7 315.2,533.0 315.7,532.7 316.2,532.8 316.7,532.8 317.2,532.9 317.7,533.0 318.2,532.8 318.7,532.7 319.2,532.8 319.7,533.3 320.2,533.3 320.7,533.2 321.3,532.8 321.8,532.8 322.3,533.2 322.8,532.7 323.3,532.8 323.8,533.1 324.3,533.3 324.8,533.3 325.3,533.2 325.8,532.9 326.3,533.1 326.8,533.3 327.3,533.2 327.8,533.3 328.3,533.2 328.8,533.2 329.3,533.1 329.8,533.0 330.3,533.0 330.8,533.3 331.3,533.0 331.8,532.7 332.3,533.0 332.8,533.2 333.3,533.1 333.8,533.0 334.3,533.3 334.8,533.2 335.3,532.8 335.8,533.1 336.3,533.2 336.8,532.7 337.3,533.3 337.8,533.0 338.3,533.2 338.8,532.7 339.4,532.9 339.9,532.9 340.4,532.8 340.9,533.1 341.4,533.2 341.9,533.1 342.4,533.2 342.9,532.8 343.4,532.9 343.9,532.9 344.4,533.2 344.9,533.1 345.4,533.3 345.9,533.2 346.4,533.0 346.9,533.1 347.4,533.2 347.9,533.0 348.4,533.1 348.9,533.2 349.4,533.2 349.9,532.8 350.4,532.7 350.9,533.1 351.4,533.2 351.9,532.8 352.4,533.2 352.9,533.2 353.4,532.8 353.9,532.8 354.4,533.1 354.9,533.1 355.4,532.8 355.9,533.2 356.4,532.8 357.0,533.2 357.5,533.3 358.0,532.8 358.5,533.1 359.0,533.0 359.5,533.2 360.0,533.0 360.5,532.9 361.0,532.8 361.5,533.2 362.0,532.9 362.5,533.2 363.0,532.7 363.5,533.2 364.0,532.7 364.5,533.1 365.0,533.3 365.5,532.9 366.0,533.1 366.5,532.9 367.0,532.7 367.5,533.2 368.0,533.0 368.5,533.2 369.0,532.7 369.5,532.8 370.0,532.8 370.5,533.2 371.0,532.7 371.5,532.7 372.0,532.9 372.5,532.9 373.0,533.2 373.5,533.2 374.0,532.8 374.6,533.1 375.1,532.9 375.6,533.2 376.1,533.1 376.6,532.7 377.1,533.0 377.6,533.0 378.1,533.0 378.6,533.0 379.1,533.1 379.6,532.9 380.1,533.0 380.6,533.2 381.1,533.1 381.6,532.8 382.1,532.8 382.6,532.9 383.1,533.3 383.6,532.9 384.1,533.2 384.6,533.3 385.1,533.1 385.6,532.9 386.1,533.1 386.6,533.0 387.1,533.3 387.6,533.0 388.1,533.1 388.6,533.1 389.1,533.1 389.6,532.8 390.1,533.0 390.6,533.0 391.1,533.1 391.6,533.2 392.2,532.8 392.7,532.9 393.2,532.9 393.7,533.3 394.2,533.0 394.7,533.0 395.2,533.3 395.7,533.2 396.2,533.2 396.7,533.0 397.2,532.8 397.7,532.9 398.2,532.8 398.7,532.9 399.2,533.0 399.7,533.0 400.2,533.3 400.7,533.0 401.2,532.8 401.7,532.8 402.2,533.1 402.7,533.0 403.2,532.9 403.7,533.0 404.2,532.9 404.7,533.1 405.2,533.1 405.7,532.7 406.2,533.0 406.7,532.9 407.2,533.0 407.7,533.0 408.2,533.2 408.7,533.3 409.2,533.1 409.7,533.1 410.3,533.0 410.8,532.8 411.3,533.1 411.8,532.8 412.3,532.9 412.8,533.1 413.3,532.9 413.8,533.2 414.3,533.0 414.8,533.3 415.3,532.7 415.8,533.0 416.3,532.9 416.8,533.0 417.3,533.1 417.8,533.1 418.3,533.3 418.8,533.0 419.3,532.9 419.8,533.1 420.3,533.0 420.8,532.9 421.3,533.3 421.8,532.8 422.3,532.7 422.8,533.0 423.3,533.2 423.8,533.2 424.3,533.2 424.8,533.1 425.3,533.0 425.8,532.9 426.3,532.8 426.8,533.0 427.3,533.2 427.9,533.0 428.4,533.3 428.9,533.2 429.4,533.0 429.9,533.1 430.4,533.0 430.9,533.2 431.4,533.2 431.9,532.8 432.4,533.2 432.9,533.1 433.4,532.9 433.9,533.1 434.4,533.0 434.9,533.1 435.4,533.0 435.9,533.1 436.4,533.3 436.9,533.2 437.4,533.0 437.9,532.9 438.4,533.1 438.9,533.1 439.4,532.8 439.9,533.0 440.4,532.9 440.9,533.1 441.4,532.8 441.9,532.9 442.4,532.9 442.9,532.9 443.4,533.0 443.9,533.2 444.4,533.1 444.9,533.1 445.5,533.2 446.0,532.9 446.5,533.0 447.0,533.1 447.5,532.8 448.0,533.2 448.5,533.3 449.0,533.2 449.5,532.7 450.0,533.2 450.5,532.8 451.0,532.8 451.5,533.1 452.0,532.9 452.5,532.8 453.0,533.1 453.5,533.0 454.0,533.0 454.5,533.0 455.0,533.1 455.5,533.2 456.0,533.1 456.5,533.1 457.0,533.2 457.5,533.0 458.0,533.1 458.5,532.8 459.0,532.7 459.5,533.0 460.0,533.1 460.5,532.8 461.0,533.3 461.5,532.9 462.0,533.0 462.5,533.0 463.1,533.3 463.6,532.8 464.1,532.9 464.6,533.1 465.1,532.9 465.6,532.9 466.1,532.8 466.6,533.3 467.1,533.0 467.6,533.0 468.1,532.8 468.6,533.3 469.1,532.8 469.6,533.1 470.1,532.7 470.6,533.0 471.1,532.9 471.6,533.3 472.1,533.0 472.6,533.2 473.1,532.7 473.6,532.8 474.1,533.3 474.6,532.9 475.1,532.7 475.6,532.9 476.1,532.9 476.6,533.0 477.1,532.9 477.6,532.9 478.1,533.0 478.6,533.0 479.1,532.8 479.6,533.0 480.1,533.0 480.6,533.0 481.2,533.1 481.7,533.0 482.2,532.8 482.7,533.3 483.2,532.8 483.7,532.9 484.2,533.0 484.7,532.9 485.2,532.8 485.7,533.2 486.2,532.9 486.7,533.0 487.2,533.1 487.7,532.8 488.2,533.0 488.7,532.8 489.2,533.0 489.7,533.1 490.2,533.2 490.7,533.3 491.2,532.8 491.7,533.0 492.2,533.1 492.7,532.9 493.2,533.3 493.7,533.0 494.2,533.2 494.7,532.7 495.2,532.9 495.7,533.1 496.2,533.2 496.7,533.0 497.2,533.2 497.7,533.2 498.2,532.9 498.8,533.1 499.3,533.0 499.8,532.8 500.3,533.2 500.8,533.2 501.3,533.2 501.8,532.8 502.3,533.2 502.8,532.7 503.3,533.0 503.8,532.9 504.3,533.0 504.8,532.9 505.3,533.0 505.8,533.0 506.3,533.2 506.8,533.1 507.3,532.9 507.8,532.8 508.3,532.8 508.8,532.9 509.3,533.0 509.8,533.0 510.3,533.2 510.8,533.3 511.3,532.9 511.8,532.9 512.3,533.0 512.8,532.7 513.3,533.1 513.8,532.7 514.3,533.1 514.8,533.1 515.3,532.9 515.8,533.3 516.4,532.9 516.9,532.7 517.4,532.8 517.9,532.8 518.4,533.1 518.9,533.1 519.4,532.9 519.9,533.2 520.4,532.8 520.9,532.8 521.4,533.0 521.9,533.0 522.4,533.2 522.9,532.9 523.4,533.2 523.9,533.1 524.4,533.1 524.9,533.0 525.4,532.8 525.9,533.0 526.4,533.3 526.9,532.7 527.4,532.9 527.9,532.9 528.4,532.9 528.9,533.2 529.4,533.1 529.9,532.8 530.4,533.1 530.9,533.2 531.4,532.7 531.9,532.7 532.4,533.1 532.9,533.2 533.4,533.0 533.9,533.0 534.5,532.9 535.0,533.0 535.5,533.2 536.0,533.1 536.5,533.1 537.0,533.0 537.5,533.2 538.0,533.2 538.5,533.0 539.0,532.9 539.5,532.9 540.0,533.3 540.5,533.1 541.0,532.7 541.5,533.0 542.0,533.0 542.5,533.1 543.0,532.9 543.5,533.2 544.0,533.0 544.5,533.2 545.0,532.9 545.5,533.2 546.0,533.0 546.5,533.0 547.0,533.0 547.5,533.3 548.0,533.0 548.5,533.0 549.0,532.9 549.5,533.0 550.0,532.9 550.5,533.0 551.0,532.9 551.5,532.7 552.1,532.9 552.6,532.7 553.1,533.1 553.6,532.8 554.1,533.2 554.6,532.9 555.1,532.9 555.6,533.0 556.1,532.9 556.6,533.1 557.1,532.9 557.6,533.3 558.1,532.7 558.6,532.7 559.1,533.2 559.6,533.1 560.1,532.9 560.6,533.1 561.1,532.9 561.6,533.0 562.1,532.9 562.6,533.0 563.1,533.1 563.6,533.2 564.1,532.9 564.6,533.0 565.1,533.0 565.6,533.2 566.1,533.0 566.6,533.2 567.1,533.3 567.6,532.9 568.1,532.9 568.6,533.3 569.1,533.0 569.7,533.0 570.2,533.2 570.7,533.1 571.2,533.0 571.7,533.1 572.2,532.9 572.7,532.9 573.2,532.7 573.7,533.1 574.2,533.2 574.7,533.1 575.2,533.3 575.7,533.2 576.2,532.8 576.7,532.9 577.2,533.3 577.7,532.8 578.2,533.2 578.7,533.2 579.2,532.8 579.7,532.8 580.2,533.1 580.7,533.1 581.2,532.7 581.7,533.0 582.2,532.8 582.7,533.2 583.2,533.0 583.7,532.7 584.2,532.9 584.7,532.7 585.2,533.2 585.7,533.2 586.2,533.1 586.7,532.7 587.3,533.3 587.8,532.9 588.3,533.1 588.8,533.2 589.3,533.0 589.8,532.8 590.3,532.8 590.8,533.1 591.3,532.8 591.8,532.9 592.3,533.3 592.8,532.9 593.3,532.8 593.8,533.1 594.3,532.9 594.8,533.2 595.3,532.9 595.8,533.2 596.3,533.2 596.8,532.8 597.3,533.0 597.8,533.0 598.3,532.8 598.8,533.2 599.3,532.9 599.8,533.1 600.3,532.7 600.8,533.3 601.3,533.3 601.8,533.1 602.3,532.8 602.8,533.1 603.3,533.0 603.8,533.0 604.3,532.8 604.8,532.8 605.4,533.2 605.9,533.1 606.4,533.1 606.9,533.1 607.4,532.9 607.9,533.0 608.4,532.9 608.9,533.1 609.4,533.0 609.9,533.2 610.4,532.9 610.9,532.9 611.4,532.7 611.9,532.7 612.4,532.8 612.9,532.7 613.4,533.0 613.9,532.9 614.4,533.2 614.9,532.7 615.4,533.3 615.9,532.8 616.4,533.2 616.9,532.9 617.4,532.8 617.9,533.1 618.4,532.9 618.9,532.7 619.4,532.8 619.9,533.1 620.4,533.1 620.9,533.3 621.4,532.9 621.9,533.2 622.4,532.9 623.0,533.0 623.5,532.9 624.0,532.9 624.5,533.2 625.0,532.9 625.5,533.0 626.0,533.2 626.5,533.0 627.0,533.2 627.5,533.0 628.0,532.9 628.5,533.1 629.0,533.1 629.5,532.9 630.0,533.3 630.5,532.8 631.0,533.2 631.5,533.1" fill="none" stroke="#d8c6d6" stroke-width="0.8" stroke-linejoin="round"/><polyline points="28.6,474.9 29.1,474.8 29.6,474.9 30.1,475.0 30.6,475.0 31.1,474.9 31.6,474.9 32.1,474.8 32.6,474.8 33.1,474.8 33.6,474.8 34.1,475.0 34.6,475.0 35.1,474.6 35.6,474.9 36.1,474.9 36.6,474.8 37.1,475.0 37.7,474.6 38.2,474.8 38.7,474.7 39.2,475.0 39.7,474.6 40.2,474.8 40.7,474.6 41.2,474.9 41.7,474.8 42.2,474.9 42.7,474.7 43.2,475.0 43.7,474.6 44.2,474.7 44.7,474.9 45.2,475.0 45.7,474.9 46.2,474.7 46.7,474.6 47.2,474.9 47.7,474.9 48.2,474.6 48.7,475.0 49.2,474.8 49.7,474.6 50.2,474.8 50.7,474.7 51.2,474.6 51.7,475.0 52.2,475.0 52.7,474.6 53.2,474.8 53.7,474.7 54.2,474.9 54.7,474.6 55.3,474.7 55.8,474.8 56.3,474.8 56.8,474.8 57.3,474.8 57.8,475.0 58.3,475.0 58.8,475.0 59.3,475.0 59.8,474.7 60.3,474.7 60.8,474.8 61.3,474.9 61.8,474.9 62.3,474.7 62.8,475.0 63.3,474.7 63.8,474.6 64.3,474.6 64.8,474.7 65.3,474.9 65.8,475.0 66.3,474.6 66.8,474.7 67.3,474.7 67.8,474.9 68.3,475.0 68.8,474.7 69.3,474.6 69.8,475.0 70.3,475.0 70.8,474.9 71.3,474.8 71.8,474.9 72.3,474.9 72.8,474.8 73.4,474.7 73.9,474.8 74.4,474.9 74.9,474.7 75.4,474.9 75.9,474.6 76.4,475.0 76.9,474.7 77.4,474.7 77.9,475.0 78.4,475.0 78.9,475.0 79.4,475.0 79.9,475.0 80.4,475.0 80.9,474.8 81.4,474.6 81.9,474.9 82.4,475.0 82.9,475.0 83.4,474.6 83.9,474.6 84.4,474.9 84.9,474.8 85.4,475.0 85.9,475.0 86.4,474.8 86.9,474.9 87.4,474.9 87.9,474.9 88.4,474.7 88.9,474.9 89.4,474.6 89.9,475.0 90.4,474.9 91.0,475.0 91.5,474.8 92.0,474.7 92.5,474.8 93.0,474.9 93.5,474.8 94.0,474.6 94.5,474.6 95.0,474.7 95.5,474.7 96.0,474.7 96.5,474.7 97.0,474.8 97.5,474.9 98.0,475.0 98.5,474.9 99.0,474.6 99.5,475.0 100.0,474.9 100.5,474.9 101.0,474.9 101.5,474.7 102.0,474.7 102.5,474.6 103.0,474.9 103.5,474.6 104.0,474.9 104.5,475.0 105.0,474.9 105.5,474.9 106.0,475.0 106.5,475.0 107.0,475.0 107.5,475.0 108.0,474.8 108.6,474.6 109.1,474.9 109.6,474.9 110.1,475.0 110.6,474.9 111.1,474.7 111.6,474.6 112.1,475.0 112.6,474.9 113.1,475.0 113.6,474.8 114.1,475.0 114.6,474.9 115.1,475.0 115.6,474.8 116.1,475.0 116.6,474.7 117.1,474.6 117.6,474.7 118.1,474.7 118.6,475.0 119.1,474.7 119.6,474.7 120.1,474.9 120.6,474.6 121.1,474.7 121.6,474.7 122.1,474.6 122.6,474.8 123.1,474.8 123.6,475.0 124.1,474.7 124.6,475.0 125.1,474.6 125.6,474.8 126.2,474.7 126.7,474.6 127.2,474.7 127.7,475.0 128.2,474.7 128.7,474.8 129.2,474.8 129.7,474.7 130.2,474.8 130.7,474.6 131.2,474.7 131.7,474.7 132.2,475.0 132.7,474.9 133.2,474.9 133.7,474.8 134.2,475.0 134.7,474.9 135.2,474.6 135.7,474.6 136.2,474.9 136.7,475.0 137.2,475.0 137.7,474.9 138.2,474.6 138.7,474.8 139.2,474.9 139.7,474.9 140.2,474.6 140.7,475.0 141.2,474.8 141.7,474.7 142.2,475.0 142.7,474.7 143.2,474.6 143.7,474.9 144.3,474.7 144.8,474.7 145.3,474.7 145.8,474.9 146.3,474.7 146.8,474.9 147.3,475.0 147.8,475.0 148.3,475.0 148.8,475.0 149.3,474.7 149.8,475.0 150.3,474.6 150.8,474.8 151.3,474.6 151.8,474.6 152.3,475.0 152.8,474.6 153.3,474.9 153.8,474.8 154.3,474.6 154.8,474.9 155.3,474.6 155.8,475.0 156.3,475.0 156.8,474.8 157.3,474.8 157.8,474.6 158.3,474.9 158.8,474.6 159.3,474.8 159.8,475.0 160.3,474.9 160.8,474.6 161.3,474.9 161.9,474.9 162.4,474.7 162.9,474.9 163.4,474.8 163.9,474.8 164.4,474.8 164.9,474.7 165.4,474.7 165.9,475.0 166.4,474.7 166.9,474.9 167.4,474.7 167.9,474.6 168.4,474.6 168.9,475.0 169.4,474.9 169.9,475.0 170.4,474.8 170.9,474.6 171.4,474.6 171.9,474.6 172.4,474.9 172.9,474.9 173.4,475.0 173.9,474.7 174.4,474.7 174.9,474.7 175.4,474.6 175.9,474.6 176.4,474.8 176.9,474.8 177.4,474.7 177.9,475.0 178.4,474.7 178.9,475.0 179.5,474.8 180.0,474.6 180.5,474.6 181.0,474.9 181.5,475.0 182.0,474.6 182.5,474.9 183.0,474.7 183.5,474.9 184.0,475.0 184.5,474.9 185.0,474.7 185.5,474.6 186.0,475.0 186.5,475.0 187.0,475.0 187.5,474.8 188.0,474.6 188.5,474.7 189.0,475.0 189.5,474.6 190.0,474.7 190.5,474.6 191.0,475.0 191.5,474.7 192.0,474.6 192.5,474.7 193.0,474.7 193.5,474.8 194.0,474.9 194.5,474.9 195.0,474.6 195.5,474.8 196.0,474.6 196.5,474.8 197.0,475.0 197.6,474.7 198.1,475.0 198.6,474.7 199.1,474.7 199.6,474.9 200.1,474.6 200.6,474.8 201.1,474.8 201.6,474.9 202.1,475.0 202.6,474.9 203.1,474.7 203.6,474.6 204.1,474.8 204.6,474.7 205.1,474.8 205.6,474.6 206.1,474.9 206.6,474.8 207.1,474.6 207.6,474.6 208.1,475.0 208.6,475.0 209.1,475.0 209.6,474.7 210.1,475.0 210.6,474.6 211.1,474.9 211.6,475.0 212.1,474.7 212.6,474.6 213.1,474.6 213.6,474.6 214.1,475.0 214.6,474.9 215.2,474.8 215.7,474.6 216.2,474.9 216.7,474.6 217.2,474.6 217.7,474.8 218.2,474.9 218.7,475.0 219.2,475.0 219.7,474.6 220.2,474.7 220.7,474.6 221.2,474.8 221.7,474.6 222.2,475.0 222.7,474.9 223.2,475.0 223.7,474.8 224.2,475.0 224.7,475.0 225.2,475.0 225.7,475.0 226.2,474.7 226.7,474.7 227.2,474.6 227.7,474.9 228.2,474.8 228.7,475.0 229.2,474.7 229.7,474.8 230.2,475.0 230.7,475.0 231.2,474.9 231.7,475.0 232.2,475.0 232.8,474.7 233.3,474.9 233.8,474.6 234.3,474.9 234.8,475.0 235.3,474.8 235.8,474.6 236.3,474.8 236.8,474.6 237.3,474.8 237.8,474.6 238.3,474.8 238.8,475.0 239.3,474.9 239.8,475.0 240.3,474.8 240.8,474.8 241.3,474.6 241.8,474.9 242.3,474.8 242.8,474.8 243.3,474.6 243.8,474.8 244.3,474.6 244.8,474.6 245.3,474.6 245.8,474.8 246.3,474.6 246.8,475.0 247.3,474.9 247.8,475.0 248.3,474.8 248.8,474.6 249.3,474.7 249.8,475.0 250.4,474.8 250.9,474.9 251.4,474.9 251.9,474.6 252.4,474.6 252.9,474.8 253.4,475.0 253.9,475.0 254.4,474.8 254.9,474.7 255.4,474.6 255.9,474.8 256.4,474.8 256.9,475.0 257.4,474.7 257.9,474.7 258.4,474.6 258.9,474.6 259.4,475.0 259.9,475.0 260.4,474.6 260.9,474.6 261.4,474.8 261.9,474.7 262.4,474.9 262.9,475.0 263.4,474.9 263.9,474.7 264.4,474.9 264.9,474.7 265.4,474.9 265.9,474.7 266.4,475.0 266.9,474.9 267.4,475.0 267.9,474.7 268.5,475.0 269.0,474.8 269.5,474.7 270.0,474.9 270.5,474.7 271.0,474.6 271.5,474.6 272.0,474.9 272.5,474.7 273.0,474.6 273.5,474.9 274.0,474.6 274.5,474.9 275.0,474.7 275.5,474.7 276.0,475.0 276.5,475.0 277.0,475.0 277.5,475.0 278.0,474.9 278.5,475.0 279.0,474.9 279.5,474.8 280.0,474.7 280.5,474.7 281.0,474.8 281.5,474.7 282.0,474.9 282.5,475.0 283.0,474.9 283.5,474.7 284.0,474.6 284.5,474.7 285.0,474.8 285.5,475.0 286.1,474.8 286.6,474.8 287.1,474.9 287.6,474.8 288.1,474.9 288.6,474.8 289.1,474.8 289.6,474.7 290.1,474.6 290.6,474.8 291.1,475.0 291.6,475.0 292.1,474.7 292.6,474.8 293.1,474.8 293.6,474.8 294.1,474.6 294.6,474.9 295.1,474.6 295.6,474.7 296.1,474.7 296.6,474.7 297.1,474.6 297.6,474.6 298.1,474.8 298.6,474.6 299.1,474.9 299.6,474.9 300.1,474.9 300.6,474.8 301.1,474.9 301.6,474.7 302.1,474.8 302.6,474.9 303.1,474.7 303.7,474.9 304.2,474.8 304.7,475.0 305.2,474.9 305.7,474.8 306.2,474.9 306.7,474.7 307.2,474.7 307.7,474.8 308.2,474.9 308.7,474.9 309.2,474.6 309.7,475.0 310.2,475.0 310.7,474.8 311.2,475.0 311.7,474.9 312.2,474.7 312.7,474.6 313.2,474.6 313.7,474.8 314.2,474.9 314.7,474.9 315.2,474.9 315.7,474.8 316.2,474.9 316.7,474.9 317.2,474.9 317.7,474.8 318.2,474.9 318.7,474.8 319.2,474.6 319.7,474.9 320.2,474.9 320.7,474.8 321.3,475.0 321.8,474.8 322.3,474.6 322.8,474.8 323.3,474.7 323.8,474.6 324.3,475.0 324.8,474.6 325.3,474.9 325.8,474.6 326.3,474.8 326.8,475.0 327.3,474.6 327.8,475.0 328.3,474.6 328.8,475.0 329.3,475.0 329.8,474.8 330.3,474.9 330.8,474.8 331.3,474.6 331.8,474.7 332.3,474.8 332.8,475.0 333.3,474.6 333.8,474.8 334.3,474.8 334.8,474.8 335.3,474.9 335.8,474.8 336.3,474.7 336.8,475.0 337.3,474.8 337.8,474.7 338.3,474.8 338.8,475.0 339.4,474.6 339.9,474.9 340.4,474.8 340.9,474.7 341.4,474.6 341.9,474.7 342.4,474.8 342.9,474.8 343.4,474.9 343.9,474.7 344.4,474.9 344.9,474.8 345.4,474.9 345.9,475.0 346.4,474.7 346.9,475.0 347.4,474.8 347.9,474.7 348.4,474.7 348.9,474.9 349.4,474.8 349.9,474.9 350.4,474.7 350.9,475.0 351.4,474.7 351.9,475.0 352.4,474.8 352.9,474.8 353.4,474.8 353.9,474.8 354.4,474.8 354.9,474.8 355.4,475.0 355.9,474.9 356.4,474.6 357.0,475.0 357.5,474.6 358.0,474.6 358.5,475.0 359.0,474.7 359.5,474.6 360.0,474.6 360.5,474.8 361.0,475.0 361.5,474.6 362.0,474.6 362.5,474.6 363.0,474.6 363.5,474.7 364.0,474.8 364.5,475.0 365.0,474.9 365.5,475.0 366.0,474.8 366.5,475.0 367.0,474.9 367.5,474.7 368.0,474.7 368.5,474.8 369.0,474.6 369.5,475.0 370.0,474.8 370.5,474.7 371.0,474.8 371.5,475.0 372.0,474.7 372.5,474.8 373.0,474.6 373.5,474.7 374.0,474.6 374.6,474.8 375.1,474.9 375.6,474.7 376.1,474.9 376.6,474.8 377.1,474.9 377.6,475.0 378.1,474.7 378.6,475.0 379.1,474.8 379.6,474.8 380.1,474.6 380.6,474.6 381.1,474.9 381.6,474.6 382.1,474.6 382.6,474.6 383.1,474.8 383.6,474.6 384.1,474.7 384.6,474.9 385.1,474.8 385.6,474.6 386.1,474.9 386.6,475.0 387.1,474.9 387.6,474.8 388.1,474.8 388.6,474.9 389.1,475.0 389.6,474.9 390.1,474.7 390.6,474.9 391.1,474.6 391.6,474.6 392.2,474.8 392.7,474.6 393.2,474.8 393.7,474.7 394.2,475.0 394.7,474.8 395.2,475.0 395.7,475.0 396.2,474.8 396.7,474.9 397.2,474.8 397.7,474.7 398.2,474.6 398.7,474.9 399.2,475.0 399.7,474.9 400.2,474.7 400.7,474.8 401.2,474.7 401.7,474.7 402.2,474.9 402.7,474.6 403.2,474.8 403.7,474.8 404.2,474.6 404.7,474.9 405.2,474.7 405.7,474.8 406.2,474.7 406.7,474.8 407.2,474.8 407.7,474.9 408.2,474.8 408.7,474.9 409.2,474.8 409.7,474.6 410.3,474.8 410.8,474.7 411.3,474.7 411.8,475.0 412.3,474.8 412.8,474.9 413.3,474.6 413.8,474.9 414.3,474.6 414.8,474.7 415.3,474.6 415.8,474.6 416.3,475.0 416.8,475.0 417.3,474.7 417.8,474.6 418.3,474.9 418.8,474.9 419.3,474.6 419.8,474.9 420.3,474.6 420.8,474.7 421.3,474.9 421.8,474.9 422.3,474.7 422.8,474.8 423.3,475.0 423.8,474.9 424.3,474.8 424.8,474.6 425.3,474.6 425.8,474.6 426.3,474.8 426.8,474.8 427.3,474.8 427.9,474.9 428.4,474.8 428.9,474.9 429.4,474.8 429.9,475.0 430.4,474.8 430.9,475.0 431.4,475.0 431.9,475.0 432.4,474.9 432.9,474.9 433.4,474.8 433.9,474.7 434.4,474.6 434.9,474.9 435.4,474.7 435.9,474.9 436.4,474.8 436.9,474.9 437.4,474.8 437.9,474.7 438.4,474.7 438.9,474.9 439.4,475.0 439.9,474.7 440.4,474.7 440.9,474.8 441.4,474.8 441.9,474.9 442.4,474.9 442.9,474.9 443.4,475.0 443.9,474.9 444.4,475.0 444.9,474.8 445.5,474.8 446.0,474.9 446.5,474.7 447.0,475.0 447.5,474.8 448.0,474.8 448.5,474.8 449.0,474.7 449.5,474.6 450.0,474.7 450.5,474.8 451.0,475.0 451.5,474.6 452.0,475.0 452.5,475.0 453.0,474.9 453.5,474.7 454.0,474.6 454.5,475.0 455.0,474.6 455.5,474.7 456.0,475.0 456.5,474.9 457.0,475.0 457.5,475.0 458.0,474.6 458.5,474.8 459.0,474.6 459.5,474.7 460.0,474.8 460.5,475.0 461.0,474.7 461.5,474.9 462.0,474.6 462.5,474.7 463.1,474.6 463.6,474.8 464.1,474.8 464.6,474.9 465.1,474.8 465.6,475.0 466.1,474.9 466.6,474.8 467.1,475.0 467.6,474.6 468.1,474.7 468.6,474.8 469.1,474.8 469.6,475.0 470.1,474.9 470.6,474.6 471.1,475.0 471.6,474.8 472.1,474.7 472.6,474.9 473.1,474.9 473.6,475.0 474.1,474.8 474.6,474.7 475.1,474.8 475.6,474.8 476.1,474.7 476.6,474.8 477.1,474.6 477.6,474.7 478.1,474.6 478.6,474.6 479.1,474.8 479.6,474.9 480.1,474.8 480.6,475.0 481.2,474.9 481.7,474.9 482.2,474.7 482.7,475.0 483.2,474.7 483.7,475.0 484.2,474.7 484.7,475.0 485.2,474.9 485.7,474.6 486.2,474.9 486.7,474.6 487.2,474.7 487.7,474.7 488.2,474.7 488.7,474.7 489.2,474.6 489.7,474.8 490.2,474.6 490.7,474.9 491.2,474.7 491.7,474.9 492.2,474.8 492.7,475.0 493.2,475.0 493.7,474.9 494.2,475.0 494.7,475.0 495.2,475.0 495.7,474.8 496.2,474.8 496.7,474.6 497.2,474.7 497.7,474.7 498.2,474.9 498.8,474.6 499.3,474.9 499.8,474.6 500.3,474.8 500.8,474.8 501.3,475.0 501.8,474.9 502.3,474.6 502.8,474.9 503.3,474.7 503.8,474.9 504.3,474.8 504.8,475.0 505.3,474.8 505.8,474.7 506.3,474.7 506.8,475.0 507.3,474.7 507.8,474.7 508.3,474.8 508.8,474.9 509.3,475.0 509.8,474.6 510.3,474.7 510.8,474.9 511.3,474.8 511.8,474.9 512.3,474.9 512.8,474.6 513.3,474.6 513.8,474.6 514.3,474.7 514.8,474.6 515.3,474.7 515.8,474.6 516.4,474.6 516.9,474.8 517.4,474.9 517.9,474.6 518.4,474.6 518.9,474.9 519.4,474.6 519.9,474.6 520.4,474.8 520.9,474.7 521.4,474.9 521.9,474.8 522.4,474.8 522.9,474.7 523.4,474.6 523.9,475.0 524.4,474.7 524.9,475.0 525.4,474.6 525.9,474.8 526.4,474.8 526.9,474.6 527.4,474.6 527.9,475.0 528.4,475.0 528.9,475.0 529.4,474.8 529.9,474.9 530.4,474.9 530.9,474.8 531.4,474.6 531.9,474.9 532.4,474.8 532.9,474.9 533.4,474.6 533.9,474.7 534.5,474.6 535.0,474.9 535.5,474.8 536.0,474.7 536.5,474.9 537.0,474.8 537.5,474.7 538.0,474.7 538.5,474.6 539.0,474.6 539.5,474.6 540.0,475.0 540.5,475.0 541.0,474.8 541.5,475.0 542.0,474.8 542.5,474.9 543.0,474.6 543.5,474.8 544.0,474.9 544.5,474.8 545.0,474.9 545.5,474.7 546.0,474.9 546.5,474.7 547.0,474.8 547.5,474.8 548.0,474.8 548.5,474.6 549.0,474.7 549.5,474.9 550.0,474.6 550.5,474.8 551.0,475.0 551.5,474.9 552.1,474.9 552.6,474.9 553.1,475.0 553.6,474.7 554.1,474.7 554.6,474.9 555.1,474.6 555.6,474.8 556.1,474.7 556.6,474.8 557.1,474.9 557.6,475.0 558.1,474.8 558.6,474.9 559.1,474.6 559.6,474.9 560.1,475.0 560.6,474.9 561.1,474.8 561.6,474.8 562.1,474.8 562.6,474.6 563.1,474.6 563.6,474.9 564.1,474.8 564.6,474.6 565.1,474.9 565.6,475.0 566.1,474.9 566.6,474.6 567.1,475.0 567.6,474.6 568.1,474.8 568.6,474.8 569.1,474.6 569.7,474.7 570.2,474.6 570.7,474.6 571.2,474.6 571.7,474.9 572.2,474.9 572.7,474.7 573.2,475.0 573.7,474.8 574.2,474.8 574.7,475.0 575.2,474.9 575.7,474.8 576.2,474.9 576.7,474.9 577.2,474.7 577.7,474.6 578.2,474.9 578.7,474.9 579.2,474.9 579.7,474.6 580.2,474.9 580.7,474.6 581.2,474.9 581.7,474.9 582.2,474.9 582.7,474.6 583.2,474.7 583.7,474.9 584.2,474.6 584.7,474.6 585.2,474.8 585.7,475.0 586.2,474.9 586.7,474.7 587.3,474.6 587.8,475.0 588.3,475.0 588.8,474.9 589.3,474.7 589.8,474.9 590.3,474.6 590.8,474.6 591.3,474.7 591.8,475.0 592.3,474.6 592.8,474.6 593.3,474.9 593.8,474.9 594.3,474.7 594.8,474.6 595.3,475.0 595.8,475.0 596.3,475.0 596.8,474.8 597.3,474.6 597.8,474.9 598.3,474.9 598.8,475.0 599.3,474.9 599.8,474.8 600.3,475.0 600.8,474.8 601.3,474.8 601.8,474.9 602.3,474.9 602.8,474.8 603.3,475.0 603.8,474.7 604.3,475.0 604.8,475.0 605.4,474.7 605.9,474.6 606.4,474.9 606.9,474.9 607.4,475.0 607.9,474.8 608.4,474.9 608.9,474.9 609.4,474.6 609.9,474.9 610.4,474.8 610.9,474.7 611.4,474.7 611.9,474.7 612.4,474.9 612.9,474.8 613.4,474.7 613.9,474.6 614.4,474.9 614.9,474.9 615.4,475.0 615.9,474.9 616.4,474.6 616.9,474.7 617.4,474.8 617.9,474.7 618.4,475.0 618.9,474.7 619.4,474.6 619.9,474.8 620.4,474.6 620.9,474.6 621.4,474.9 621.9,474.9 622.4,474.8 623.0,474.6 623.5,474.8 624.0,474.8 624.5,474.7 625.0,474.7 625.5,474.6 626.0,474.8 626.5,474.7 627.0,474.8 627.5,474.9 628.0,474.7 628.5,474.9 629.0,474.7 629.5,474.9 630.0,474.7 630.5,474.8 631.0,474.9 631.5,474.9" fill="none" stroke="#98b2cc" stroke-width="0.8" stroke-linejoin="round"/><polyline points="28.6,516.5 29.1,517.3 29.6,519.7 30.1,520.6 30.6,520.6 31.1,521.2 31.6,520.8 32.1,521.5 32.6,521.1 33.1,521.1 33.6,520.6 34.1,520.9 34.6,520.6 35.1,519.9 35.6,520.3 36.1,519.8 36.6,520.7 37.1,520.9 37.7,520.6 38.2,520.7 38.7,519.5 39.2,520.5 39.7,520.1 40.2,520.5 40.7,521.4 41.2,520.1 41.7,520.0 42.2,520.2 42.7,520.3 43.2,519.5 43.7,519.4 44.2,520.3 44.7,519.9 45.2,520.2 45.7,519.5 46.2,519.3 46.7,518.9 47.2,519.5 47.7,520.1 48.2,520.0 48.7,519.8 49.2,519.9 49.7,520.0 50.2,519.7 50.7,519.9 51.2,520.6 51.7,521.0 52.2,520.1 52.7,519.4 53.2,520.3 53.7,520.3 54.2,520.5 54.7,520.3 55.3,519.8 55.8,520.1 56.3,520.3 56.8,520.4 57.3,519.5 57.8,519.9 58.3,519.6 58.8,519.4 59.3,519.6 59.8,519.4 60.3,520.4 60.8,520.3 61.3,520.2 61.8,520.1 62.3,520.4 62.8,520.7 63.3,521.3 63.8,522.0 64.3,522.3 64.8,521.7 65.3,521.8 65.8,522.1 66.3,521.7 66.8,522.1 67.3,522.1 67.8,522.2 68.3,522.4 68.8,522.1 69.3,522.8 69.8,522.9 70.3,522.4 70.8,522.5 71.3,522.7 71.8,522.2 72.3,522.1 72.8,522.4 73.4,521.3 73.9,521.2 74.4,521.9 74.9,522.3 75.4,521.9 75.9,522.4 76.4,523.2 76.9,522.8 77.4,522.5 77.9,522.4 78.4,521.9 78.9,522.3 79.4,522.3 79.9,522.6 80.4,523.0 80.9,522.6 81.4,522.5 81.9,522.5 82.4,522.9 82.9,521.6 83.4,521.4 83.9,520.9 84.4,520.8 84.9,520.9 85.4,520.7 85.9,520.8 86.4,520.6 86.9,520.1 87.4,519.8 87.9,519.3 88.4,519.7 88.9,519.6 89.4,520.0 89.9,520.2 90.4,519.5 91.0,519.0 91.5,519.4 92.0,519.0 92.5,519.2 93.0,519.4 93.5,518.8 94.0,519.1 94.5,518.1 95.0,517.9 95.5,517.2 96.0,515.8 96.5,516.8 97.0,517.6 97.5,518.6 98.0,519.1 98.5,518.9 99.0,519.0 99.5,519.1 100.0,519.6 100.5,519.5 101.0,520.1 101.5,520.3 102.0,519.8 102.5,520.3 103.0,519.3 103.5,519.7 104.0,519.6 104.5,519.9 105.0,520.6 105.5,520.5 106.0,520.3 106.5,520.9 107.0,520.3 107.5,520.0 108.0,520.6 108.6,520.8 109.1,520.1 109.6,520.3 110.1,520.8 110.6,520.6 111.1,520.4 111.6,520.6 112.1,520.7 112.6,520.4 113.1,520.9 113.6,520.1 114.1,520.4 114.6,521.4 115.1,520.7 115.6,520.7 116.1,519.8 116.6,520.0 117.1,519.9 117.6,520.4 118.1,520.5 118.6,521.7 119.1,521.4 119.6,521.7 120.1,522.1 120.6,522.6 121.1,523.1 121.6,522.3 122.1,523.4 122.6,523.1 123.1,522.8 123.6,522.3 124.1,522.5 124.6,522.0 125.1,522.5 125.6,522.4 126.2,522.6 126.7,521.8 127.2,521.5 127.7,522.0 128.2,521.7 128.7,521.2 129.2,520.5 129.7,521.0 130.2,520.0 130.7,519.5 131.2,520.3 131.7,519.9 132.2,520.5 132.7,520.5 133.2,521.2 133.7,511.8 134.2,521.1 134.7,520.5 135.2,520.6 135.7,521.0 136.2,520.7 136.7,519.4 137.2,519.7 137.7,519.9 138.2,520.1 138.7,520.1 139.2,520.7 139.7,520.1 140.2,520.4 140.7,519.7 141.2,519.2 141.7,519.4 142.2,519.7 142.7,519.7 143.2,519.9 143.7,520.4 144.3,520.7 144.8,520.7 145.3,520.7 145.8,520.3 146.3,520.0 146.8,519.6 147.3,519.9 147.8,519.7 148.3,519.9 148.8,520.4 149.3,520.6 149.8,520.9 150.3,520.2 150.8,519.3 151.3,519.3 151.8,520.5 152.3,520.6 152.8,520.2 153.3,520.7 153.8,520.2 154.3,520.8 154.8,520.2 155.3,519.9 155.8,520.3 156.3,519.7 156.8,519.8 157.3,520.7 157.8,520.5 158.3,519.8 158.8,519.8 159.3,519.9 159.8,519.6 160.3,520.0 160.8,520.5 161.3,520.3 161.9,520.5 162.4,520.4 162.9,520.2 163.4,519.8 163.9,520.3 164.4,520.7 164.9,520.2 165.4,519.7 165.9,520.1 166.4,520.1 166.9,520.5 167.4,520.4 167.9,520.2 168.4,519.5 168.9,520.0 169.4,520.0 169.9,519.5 170.4,519.2 170.9,518.8 171.4,519.7 171.9,519.7 172.4,518.5 172.9,518.9 173.4,519.2 173.9,519.6 174.4,519.8 174.9,519.8 175.4,520.2 175.9,520.5 176.4,520.2 176.9,520.7 177.4,520.3 177.9,519.8 178.4,520.0 178.9,519.5 179.5,519.7 180.0,519.5 180.5,519.7 181.0,520.1 181.5,519.2 182.0,519.9 182.5,520.3 183.0,520.3 183.5,520.7 184.0,520.7 184.5,520.5 185.0,520.1 185.5,520.7 186.0,521.1 186.5,520.5 187.0,520.5 187.5,520.4 188.0,521.2 188.5,521.1 189.0,520.8 189.5,521.8 190.0,521.9 190.5,522.0 191.0,522.1 191.5,522.0 192.0,522.0 192.5,522.3 193.0,522.2 193.5,521.8 194.0,521.8 194.5,522.5 195.0,521.8 195.5,521.2 196.0,521.4 196.5,521.0 197.0,522.3 197.6,522.1 198.1,522.0 198.6,521.8 199.1,522.4 199.6,521.4 200.1,521.4 200.6,520.7 201.1,521.5 201.6,521.3 202.1,522.0 202.6,521.5 203.1,520.9 203.6,520.8 204.1,521.3 204.6,520.9 205.1,521.1 205.6,520.8 206.1,520.6 206.6,520.6 207.1,521.5 207.6,520.8 208.1,521.0 208.6,521.3 209.1,520.8 209.6,520.3 210.1,521.2 210.6,521.7 211.1,521.2 211.6,520.5 212.1,521.0 212.6,520.9 213.1,520.4 213.6,520.4 214.1,519.5 214.6,519.7 215.2,519.6 215.7,519.5 216.2,520.2 216.7,520.4 217.2,521.1 217.7,519.6 218.2,519.7 218.7,519.6 219.2,520.4 219.7,520.7 220.2,520.5 220.7,520.3 221.2,519.9 221.7,519.7 222.2,519.7 222.7,518.8 223.2,520.1 223.7,520.3 224.2,520.9 224.7,520.8 225.2,520.5 225.7,520.4 226.2,519.4 226.7,519.1 227.2,519.7 227.7,519.5 228.2,518.9 228.7,519.3 229.2,518.9 229.7,519.3 230.2,520.1 230.7,519.4 231.2,519.3 231.7,519.7 232.2,519.6 232.8,519.7 233.3,519.3 233.8,519.3 234.3,518.5 234.8,518.9 235.3,519.7 235.8,519.2 236.3,519.3 236.8,519.7 237.3,520.1 237.8,520.2 238.3,519.5 238.8,519.3 239.3,520.1 239.8,519.6 240.3,519.6 240.8,519.2 241.3,519.0 241.8,518.0 242.3,518.5 242.8,518.0 243.3,518.2 243.8,518.4 244.3,519.4 244.8,519.6 245.3,519.6 245.8,519.2 246.3,518.6 246.8,519.0 247.3,518.7 247.8,518.8 248.3,519.3 248.8,519.1 249.3,519.0 249.8,518.6 250.4,519.2 250.9,519.3 251.4,519.3 251.9,519.8 252.4,518.2 252.9,517.8 253.4,517.5 253.9,517.8 254.4,518.4 254.9,519.0 255.4,518.4 255.9,518.7 256.4,519.3 256.9,519.2 257.4,519.1 257.9,519.5 258.4,518.6 258.9,519.1 259.4,519.8 259.9,519.5 260.4,519.1 260.9,519.5 261.4,519.3 261.9,519.1 262.4,519.4 262.9,518.9 263.4,519.5 263.9,519.2 264.4,519.2 264.9,519.7 265.4,519.6 265.9,519.7 266.4,520.2 266.9,520.5 267.4,520.8 267.9,519.9 268.5,520.1 269.0,519.1 269.5,519.6 270.0,520.0 270.5,519.4 271.0,519.6 271.5,519.8 272.0,519.5 272.5,519.1 273.0,519.8 273.5,519.0 274.0,519.2 274.5,519.5 275.0,519.4 275.5,519.9 276.0,520.2 276.5,520.0 277.0,520.5 277.5,520.4 278.0,519.6 278.5,519.6 279.0,519.9 279.5,520.1 280.0,519.4 280.5,520.8 281.0,520.0 281.5,519.8 282.0,520.4 282.5,520.6 283.0,521.4 283.5,521.2 284.0,521.3 284.5,521.5 285.0,521.1 285.5,520.7 286.1,520.9 286.6,521.6 287.1,521.5 287.6,522.1 288.1,521.7 288.6,522.1 289.1,522.0 289.6,522.4 290.1,522.2 290.6,522.3 291.1,522.1 291.6,522.7 292.1,522.6 292.6,522.8 293.1,523.0 293.6,522.5 294.1,522.3 294.6,522.6 295.1,523.3 295.6,522.8 296.1,522.5 296.6,522.3 297.1,522.3 297.6,522.0 298.1,521.9 298.6,522.3 299.1,521.8 299.6,521.9 300.1,521.5 300.6,521.6 301.1,521.8 301.6,520.9 302.1,521.2 302.6,521.3 303.1,521.2 303.7,521.2 304.2,521.2 304.7,520.4 305.2,520.4 305.7,520.7 306.2,521.0 306.7,520.0 307.2,519.8 307.7,519.3 308.2,519.5 308.7,519.1 309.2,518.9 309.7,519.4 310.2,520.3 310.7,519.0 311.2,519.9 311.7,519.2 312.2,519.6 312.7,519.6 313.2,519.9 313.7,519.5 314.2,519.1 314.7,519.1 315.2,519.5 315.7,519.0 316.2,519.3 316.7,519.2 317.2,519.3 317.7,519.2 318.2,519.4 318.7,519.6 319.2,519.3 319.7,519.1 320.2,518.3 320.7,518.4 321.3,518.3 321.8,519.1 322.3,518.8 322.8,518.8 323.3,519.3 323.8,519.8 324.3,520.2 324.8,519.5 325.3,519.6 325.8,520.0 326.3,519.5 326.8,519.5 327.3,519.1 327.8,519.2 328.3,519.7 328.8,519.8 329.3,519.6 329.8,519.4 330.3,520.2 330.8,520.2 331.3,519.5 331.8,520.5 332.3,519.9 332.8,519.8 333.3,519.5 333.8,519.4 334.3,519.8 334.8,519.2 335.3,519.5 335.8,519.4 336.3,520.3 336.8,520.2 337.3,520.1 337.8,520.1 338.3,520.2 338.8,520.0 339.4,518.9 339.9,519.5 340.4,519.5 340.9,519.9 341.4,519.9 341.9,519.6 342.4,519.3 342.9,519.1 343.4,519.5 343.9,519.6 344.4,519.3 344.9,519.3 345.4,519.7 345.9,519.4 346.4,519.5 346.9,519.4 347.4,518.5 347.9,519.1 348.4,519.4 348.9,519.9 349.4,520.3 349.9,519.7 350.4,520.0 350.9,519.9 351.4,519.8 351.9,520.1 352.4,520.2 352.9,519.5 353.4,520.2 353.9,519.8 354.4,519.5 354.9,519.3 355.4,519.4 355.9,519.1 356.4,519.8 357.0,519.9 357.5,519.4 358.0,519.8 358.5,519.8 359.0,519.7 359.5,520.1 360.0,519.8 360.5,519.6 361.0,519.8 361.5,518.9 362.0,518.8 362.5,519.4 363.0,519.9 363.5,519.0 364.0,519.3 364.5,519.2 365.0,519.2 365.5,519.6 366.0,520.2 366.5,520.5 367.0,520.4 367.5,520.2 368.0,519.9 368.5,518.9 369.0,519.4 369.5,518.9 370.0,518.8 370.5,519.2 371.0,518.7 371.5,519.8 372.0,519.9 372.5,519.8 373.0,519.8 373.5,519.7 374.0,519.7 374.6,520.0 375.1,519.7 375.6,520.0 376.1,520.1 376.6,520.5 377.1,520.0 377.6,520.3 378.1,520.4 378.6,520.8 379.1,521.0 379.6,521.0 380.1,521.2 380.6,521.3 381.1,521.8 381.6,521.7 382.1,521.8 382.6,521.3 383.1,521.4 383.6,521.9 384.1,522.3 384.6,521.8 385.1,521.8 385.6,521.7 386.1,521.7 386.6,521.5 387.1,521.3 387.6,521.4 388.1,521.4 388.6,521.8 389.1,521.2 389.6,520.8 390.1,521.2 390.6,521.3 391.1,521.0 391.6,520.5 392.2,521.1 392.7,520.4 393.2,521.0 393.7,520.9 394.2,520.6 394.7,520.4 395.2,520.7 395.7,520.5 396.2,519.7 396.7,519.8 397.2,519.3 397.7,520.2 398.2,520.9 398.7,521.3 399.2,520.6 399.7,521.7 400.2,522.2 400.7,521.7 401.2,520.7 401.7,520.8 402.2,521.6 402.7,522.5 403.2,521.9 403.7,521.1 404.2,521.2 404.7,522.4 405.2,522.3 405.7,521.7 406.2,521.2 406.7,522.1 407.2,522.6 407.7,522.5 408.2,522.6 408.7,522.8 409.2,522.8 409.7,522.8 410.3,522.8 410.8,522.9 411.3,523.5 411.8,523.4 412.3,523.5 412.8,523.8 413.3,522.2 413.8,522.2 414.3,522.5 414.8,522.1 415.3,521.6 415.8,521.7 416.3,521.3 416.8,520.9 417.3,520.8 417.8,520.9 418.3,520.8 418.8,521.0 419.3,520.7 419.8,520.2 420.3,521.4 420.8,520.5 421.3,520.0 421.8,519.7 422.3,519.3 422.8,518.6 423.3,518.9 423.8,519.6 424.3,518.6 424.8,518.5 425.3,519.0 425.8,518.7 426.3,519.1 426.8,519.0 427.3,518.6 427.9,518.7 428.4,518.6 428.9,519.0 429.4,517.9 429.9,518.6 430.4,519.2 430.9,519.1 431.4,519.0 431.9,518.7 432.4,518.9 432.9,518.7 433.4,518.2 433.9,518.0 434.4,517.4 434.9,518.2 435.4,518.5 435.9,519.0 436.4,518.9 436.9,519.0 437.4,518.3 437.9,517.7 438.4,518.0 438.9,518.2 439.4,518.6 439.9,518.7 440.4,518.7 440.9,518.8 441.4,518.9 441.9,519.0 442.4,519.1 442.9,518.9 443.4,518.9 443.9,518.4 444.4,518.3 444.9,518.6 445.5,519.0 446.0,518.8 446.5,518.4 447.0,519.2 447.5,518.9 448.0,518.4 448.5,518.5 449.0,518.5 449.5,518.0 450.0,518.5 450.5,519.7 451.0,519.3 451.5,519.1 452.0,519.8 452.5,519.7 453.0,519.6 453.5,520.2 454.0,519.5 454.5,519.6 455.0,519.9 455.5,519.9 456.0,519.4 456.5,519.3 457.0,520.4 457.5,520.2 458.0,520.1 458.5,520.6 459.0,519.7 459.5,520.0 460.0,519.5 460.5,520.5 461.0,520.1 461.5,520.4 462.0,520.2 462.5,520.5 463.1,520.8 463.6,520.8 464.1,520.7 464.6,521.1 465.1,521.1 465.6,521.1 466.1,521.7 466.6,522.1 467.1,521.5 467.6,521.5 468.1,521.6 468.6,522.2 469.1,521.9 469.6,522.8 470.1,522.7 470.6,522.7 471.1,522.9 471.6,522.4 472.1,522.6 472.6,522.7 473.1,523.1 473.6,522.4 474.1,523.0 474.6,523.0 475.1,522.9 475.6,523.1 476.1,522.2 476.6,521.4 477.1,521.1 477.6,520.2 478.1,520.2 478.6,520.5 479.1,520.2 479.6,520.1 480.1,519.7 480.6,519.4 481.2,520.2 481.7,519.7 482.2,519.8 482.7,520.0 483.2,519.6 483.7,519.6 484.2,519.5 484.7,520.6 485.2,520.5 485.7,520.9 486.2,521.3 486.7,521.1 487.2,521.2 487.7,520.5 488.2,520.1 488.7,520.7 489.2,521.1 489.7,520.3 490.2,520.7 490.7,520.3 491.2,520.2 491.7,520.1 492.2,520.4 492.7,519.4 493.2,519.0 493.7,519.2 494.2,518.6 494.7,518.5 495.2,518.2 495.7,517.5 496.2,517.6 496.7,518.2 497.2,517.9 497.7,517.4 498.2,517.6 498.8,517.9 499.3,518.3 499.8,518.4 500.3,518.5 500.8,517.9 501.3,517.9 501.8,517.8 502.3,517.8 502.8,518.2 503.3,518.8 503.8,518.5 504.3,518.8 504.8,519.0 505.3,518.2 505.8,518.0 506.3,518.3 506.8,517.8 507.3,518.9 507.8,517.9 508.3,517.7 508.8,518.4 509.3,518.1 509.8,518.6 510.3,518.2 510.8,518.8 511.3,518.4 511.8,518.8 512.3,519.1 512.8,518.2 513.3,518.1 513.8,517.7 514.3,517.7 514.8,518.6 515.3,518.7 515.8,519.1 516.4,519.6 516.9,519.7 517.4,519.7 517.9,519.2 518.4,519.0 518.9,519.3 519.4,519.6 519.9,519.9 520.4,519.8 520.9,519.5 521.4,519.5 521.9,520.2 522.4,520.0 522.9,520.6 523.4,519.9 523.9,520.2 524.4,520.2 524.9,520.6 525.4,520.3 525.9,520.7 526.4,520.8 526.9,521.0 527.4,520.7 527.9,520.7 528.4,521.2 528.9,521.9 529.4,522.0 529.9,522.1 530.4,522.1 530.9,521.5 531.4,522.1 531.9,522.0 532.4,521.6 532.9,521.5 533.4,522.0 533.9,521.9 534.5,521.2 535.0,522.3 535.5,521.4 536.0,522.2 536.5,522.2 537.0,521.5 537.5,522.0 538.0,522.3 538.5,522.3 539.0,522.2 539.5,522.0 540.0,521.8 540.5,521.4 541.0,521.5 541.5,522.1 542.0,521.9 542.5,522.7 543.0,521.7 543.5,521.9 544.0,521.5 544.5,521.2 545.0,522.0 545.5,522.2 546.0,522.2 546.5,522.1 547.0,522.4 547.5,521.7 548.0,521.8 548.5,521.6 549.0,521.1 549.5,521.3 550.0,520.4 550.5,520.8 551.0,520.7 551.5,520.7 552.1,520.4 552.6,520.4 553.1,519.8 553.6,519.4 554.1,519.8 554.6,519.5 555.1,519.6 555.6,519.9 556.1,519.6 556.6,520.2 557.1,519.6 557.6,520.4 558.1,520.3 558.6,520.9 559.1,521.1 559.6,521.0 560.1,520.8 560.6,520.7 561.1,520.0 561.6,520.0 562.1,519.9 562.6,520.0 563.1,520.2 563.6,520.0 564.1,520.3 564.6,520.2 565.1,520.1 565.6,520.4 566.1,520.5 566.6,519.8 567.1,519.9 567.6,521.2 568.1,520.6 568.6,520.5 569.1,519.9 569.7,520.3 570.2,520.7 570.7,520.5 571.2,520.1 571.7,519.9 572.2,519.1 572.7,519.6 573.2,519.5 573.7,519.7 574.2,519.7 574.7,519.7 575.2,520.4 575.7,520.3 576.2,519.6 576.7,519.7 577.2,519.8 577.7,519.6 578.2,520.0 578.7,519.5 579.2,518.7 579.7,518.5 580.2,519.0 580.7,518.7 581.2,519.0 581.7,518.5 582.2,519.0 582.7,519.0 583.2,518.8 583.7,518.8 584.2,518.9 584.7,519.5 585.2,519.5 585.7,519.3 586.2,519.4 586.7,519.7 587.3,519.7 587.8,520.3 588.3,519.5 588.8,519.8 589.3,519.7 589.8,519.3 590.3,519.6 590.8,519.9 591.3,520.1 591.8,520.0 592.3,519.3 592.8,519.3 593.3,519.4 593.8,519.8 594.3,519.4 594.8,519.2 595.3,519.6 595.8,519.1 596.3,518.6 596.8,518.6 597.3,518.8 597.8,518.5 598.3,517.6 598.8,517.7 599.3,518.2 599.8,517.7 600.3,518.0 600.8,517.9 601.3,517.3 601.8,517.8 602.3,516.9 602.8,516.6 603.3,516.7 603.8,517.6 604.3,517.8 604.8,518.3 605.4,518.4 605.9,518.5 606.4,518.4 606.9,518.5 607.4,519.1 607.9,519.4 608.4,518.7 608.9,519.2 609.4,520.1 609.9,520.1 610.4,519.5 610.9,519.9 611.4,519.9 611.9,519.8 612.4,520.3 612.9,520.6 613.4,520.2 613.9,520.3 614.4,520.2 614.9,520.3 615.4,521.1 615.9,520.7 616.4,520.8 616.9,520.7 617.4,520.5 617.9,519.9 618.4,520.3 618.9,519.8 619.4,520.2 619.9,520.0 620.4,520.0 620.9,519.7 621.4,519.4 621.9,519.1 622.4,519.3 623.0,519.4 623.5,519.5 624.0,519.5 624.5,520.1 625.0,520.2 625.5,520.3 626.0,520.4 626.5,520.6 627.0,521.0 627.5,520.8 628.0,520.6 628.5,521.2 629.0,521.6 629.5,521.8 630.0,522.0 630.5,521.5 631.0,521.5 631.5,522.0" fill="none" stroke="#6a6098" stroke-width="0.75" stroke-linejoin="round"/><polyline points="28.6,461.0 29.1,474.0 29.7,474.6 30.2,482.0 30.8,477.0 31.3,483.2 31.9,485.2 32.4,480.7 33.0,487.3 33.5,477.1 34.1,480.7 34.6,479.1 35.2,481.4 35.7,483.3 36.3,476.6 36.8,478.3 37.4,477.7 37.9,479.5 38.5,488.9 39.0,480.3 39.6,479.2 40.1,480.2 40.7,479.5 41.2,479.8 41.8,482.3 42.3,479.1 42.9,479.7 43.4,479.6 44.0,480.9 44.5,477.4 45.1,479.8 45.6,481.3 46.2,478.9 46.7,478.8 47.3,478.0 47.8,474.8 48.3,480.4 48.9,481.5 49.4,481.4 50.0,480.4 50.5,483.9 51.1,478.9 51.6,482.6 52.2,482.2 52.7,487.1 53.3,481.4 53.8,480.9 54.4,480.2 54.9,483.5 55.5,481.4 56.0,480.1 56.6,484.0 57.1,475.1 57.7,481.3 58.2,482.3 58.8,478.6 59.3,476.5 59.9,480.8 60.4,480.3 61.0,477.6 61.5,486.1 62.1,481.2 62.6,484.8 63.2,484.1 63.7,490.3 64.3,490.6 64.8,484.2 65.4,487.8 65.9,490.1 66.5,490.3 67.0,487.5 67.5,490.3 68.1,487.4 68.6,486.9 69.2,493.5 69.7,486.4 70.3,488.9 70.8,493.5 71.4,483.4 71.9,490.1 72.5,482.1 73.0,486.5 73.6,493.1 74.1,486.8 74.7,486.1 75.2,485.9 75.8,483.4 76.3,489.1 76.9,481.5 77.4,487.8 78.0,482.6 78.5,481.7 79.1,488.5 79.6,489.7 80.2,483.6 80.7,483.5 81.3,480.3 81.8,489.7 82.4,487.8 82.9,482.2 83.5,481.7 84.0,476.1 84.6,480.0 85.1,478.7 85.7,480.9 86.2,482.0 86.8,474.5 87.3,479.6 87.8,481.9 88.4,480.3 88.9,479.1 89.5,475.0 90.0,479.7 90.6,477.9 91.1,471.7 91.7,474.0 92.2,472.4 92.8,475.8 93.3,471.2 93.9,472.1 94.4,474.9 95.0,470.8 95.5,469.5 96.1,467.0 96.6,469.4 97.2,474.5 97.7,474.5 98.3,476.8 98.8,476.8 99.4,474.2 99.9,473.4 100.5,476.3 101.0,472.9 101.6,473.4 102.1,478.4 102.7,474.7 103.2,476.8 103.8,475.5 104.3,473.1 104.9,474.8 105.4,479.1 106.0,480.9 106.5,479.9 107.0,473.6 107.6,477.0 108.1,481.2 108.7,479.8 109.2,476.4 109.8,475.8 110.3,473.5 110.9,479.8 111.4,484.7 112.0,473.2 112.5,479.0 113.1,481.6 113.6,482.7 114.2,476.1 114.7,480.6 115.3,480.7 115.8,480.5 116.4,479.5 116.9,483.4 117.5,478.1 118.0,483.6 118.6,484.1 119.1,483.6 119.7,485.7 120.2,486.8 120.8,486.2 121.3,489.6 121.9,487.7 122.4,490.7 123.0,490.5 123.5,492.6 124.1,488.0 124.6,486.9 125.2,488.9 125.7,491.4 126.2,484.6 126.8,484.2 127.3,483.9 127.9,479.4 128.4,486.3 129.0,480.2 129.5,483.6 130.1,481.1 130.6,476.8 131.2,481.6 131.7,480.2 132.3,479.0 132.8,480.5 133.4,444.0 133.9,478.6 134.5,484.9 135.0,483.8 135.6,482.4 136.1,479.8 136.7,481.4 137.2,481.3 137.8,484.7 138.3,480.3 138.9,483.5 139.4,481.5 140.0,478.7 140.5,480.6 141.1,478.5 141.6,486.2 142.2,484.2 142.7,484.9 143.3,484.7 143.8,484.9 144.4,483.1 144.9,480.6 145.4,485.4 146.0,478.7 146.5,482.5 147.1,476.5 147.6,477.6 148.2,481.6 148.7,481.2 149.3,477.5 149.8,479.1 150.4,481.2 150.9,481.7 151.5,478.2 152.0,484.2 152.6,474.3 153.1,479.4 153.7,477.2 154.2,479.5 154.8,476.2 155.3,479.9 155.9,477.4 156.4,478.9 157.0,477.9 157.5,480.9 158.1,474.1 158.6,474.2 159.2,473.2 159.7,480.1 160.3,476.8 160.8,476.4 161.4,476.8 161.9,478.8 162.5,472.0 163.0,474.1 163.6,473.5 164.1,473.7 164.7,478.0 165.2,472.4 165.7,478.5 166.3,475.7 166.8,474.7 167.4,474.2 167.9,480.3 168.5,473.5 169.0,476.5 169.6,472.0 170.1,476.7 170.7,478.2 171.2,476.3 171.8,479.5 172.3,476.3 172.9,482.3 173.4,481.7 174.0,478.4 174.5,474.4 175.1,484.2 175.6,479.9 176.2,481.5 176.7,479.0 177.3,481.9 177.8,475.6 178.4,479.1 178.9,477.4 179.5,480.0 180.0,480.7 180.6,481.1 181.1,484.6 181.7,479.2 182.2,483.6 182.8,488.4 183.3,487.3 183.9,480.8 184.4,485.8 184.9,477.2 185.5,482.7 186.0,486.7 186.6,480.9 187.1,480.5 187.7,483.4 188.2,482.0 188.8,481.0 189.3,483.4 189.9,482.7 190.4,484.8 191.0,490.3 191.5,483.3 192.1,489.6 192.6,484.4 193.2,483.6 193.7,482.6 194.3,480.3 194.8,482.9 195.4,485.1 195.9,488.2 196.5,484.2 197.0,484.5 197.6,483.6 198.1,483.3 198.7,487.8 199.2,480.4 199.8,483.4 200.3,486.1 200.9,483.1 201.4,484.7 202.0,483.3 202.5,481.7 203.1,480.5 203.6,482.4 204.1,475.0 204.7,479.8 205.2,478.7 205.8,477.4 206.3,485.1 206.9,481.3 207.4,478.2 208.0,479.7 208.5,480.2 209.1,482.2 209.6,483.5 210.2,479.6 210.7,480.9 211.3,479.8 211.8,482.0 212.4,480.4 212.9,485.1 213.5,480.9 214.0,479.3 214.6,478.7 215.1,483.8 215.7,479.2 216.2,479.1 216.8,479.2 217.3,483.1 217.9,481.1 218.4,480.7 219.0,482.1 219.5,481.0 220.1,482.5 220.6,475.9 221.2,482.8 221.7,478.2 222.3,473.9 222.8,479.5 223.3,475.4 223.9,479.8 224.4,480.0 225.0,476.0 225.5,479.7 226.1,474.2 226.6,477.7 227.2,482.1 227.7,474.9 228.3,476.8 228.8,478.7 229.4,476.7 229.9,476.8 230.5,475.2 231.0,476.1 231.6,469.1 232.1,474.3 232.7,472.1 233.2,470.9 233.8,471.1 234.3,474.4 234.9,474.4 235.4,478.7 236.0,479.7 236.5,476.8 237.1,479.7 237.6,471.3 238.2,478.2 238.7,477.4 239.3,478.7 239.8,476.4 240.4,479.4 240.9,481.4 241.5,479.0 242.0,480.4 242.5,480.1 243.1,481.6 243.6,472.6 244.2,477.6 244.7,484.4 245.3,477.5 245.8,474.3 246.4,479.0 246.9,477.8 247.5,481.2 248.0,475.8 248.6,477.3 249.1,478.5 249.7,477.0 250.2,478.9 250.8,469.2 251.3,476.0 251.9,478.9 252.4,478.8 253.0,472.9 253.5,468.0 254.1,470.7 254.6,470.9 255.2,478.2 255.7,475.1 256.3,474.2 256.8,474.7 257.4,474.3 257.9,470.9 258.5,478.5 259.0,475.3 259.6,479.1 260.1,473.5 260.7,476.9 261.2,481.4 261.8,473.3 262.3,481.2 262.8,480.6 263.4,477.4 263.9,475.5 264.5,485.7 265.0,476.6 265.6,475.4 266.1,475.6 266.7,477.9 267.2,476.2 267.8,479.6 268.3,477.9 268.9,480.6 269.4,475.9 270.0,476.9 270.5,477.1 271.1,473.5 271.6,477.4 272.2,476.5 272.7,476.7 273.3,476.4 273.8,475.2 274.4,477.8 274.9,471.6 275.5,474.7 276.0,472.9 276.6,475.2 277.1,473.7 277.7,481.6 278.2,474.0 278.8,479.6 279.3,476.4 279.9,481.9 280.4,475.4 281.0,481.4 281.5,482.9 282.0,483.0 282.6,480.0 283.1,486.2 283.7,486.1 284.2,480.9 284.8,486.8 285.3,483.1 285.9,486.8 286.4,481.1 287.0,484.6 287.5,486.2 288.1,494.2 288.6,493.4 289.2,486.9 289.7,488.6 290.3,494.8 290.8,487.7 291.4,492.0 291.9,489.1 292.5,492.5 293.0,492.1 293.6,490.3 294.1,493.2 294.7,496.8 295.2,489.0 295.8,488.2 296.3,488.4 296.9,490.3 297.4,491.0 298.0,491.7 298.5,487.9 299.1,487.1 299.6,486.1 300.2,486.9 300.7,485.5 301.2,488.4 301.8,482.0 302.3,481.2 302.9,482.0 303.4,473.6 304.0,483.2 304.5,477.1 305.1,474.4 305.6,476.1 306.2,474.4 306.7,479.1 307.3,475.6 307.8,474.7 308.4,474.1 308.9,473.0 309.5,476.3 310.0,471.6 310.6,478.8 311.1,472.6 311.7,475.4 312.2,476.4 312.8,480.3 313.3,470.4 313.9,471.3 314.4,477.4 315.0,470.5 315.5,480.6 316.1,478.6 316.6,476.8 317.2,477.7 317.7,477.3 318.3,480.0 318.8,474.5 319.4,476.4 319.9,482.2 320.4,476.4 321.0,483.4 321.5,474.7 322.1,478.1 322.6,480.2 323.2,478.9 323.7,476.5 324.3,482.0 324.8,477.6 325.4,481.1 325.9,480.2 326.5,478.1 327.0,481.5 327.6,476.3 328.1,473.6 328.7,475.1 329.2,477.2 329.8,475.8 330.3,477.9 330.9,473.5 331.4,474.8 332.0,479.0 332.5,477.1 333.1,479.9 333.6,477.0 334.2,485.4 334.7,476.1 335.3,479.3 335.8,477.3 336.4,480.6 336.9,482.2 337.5,479.5 338.0,480.1 338.6,484.2 339.1,482.0 339.7,477.7 340.2,479.1 340.7,481.2 341.3,478.2 341.8,480.3 342.4,481.4 342.9,475.5 343.5,478.6 344.0,480.2 344.6,478.2 345.1,476.3 345.7,474.7 346.2,478.2 346.8,477.9 347.3,479.6 347.9,478.2 348.4,475.0 349.0,473.3 349.5,479.0 350.1,480.5 350.6,475.6 351.2,479.9 351.7,485.2 352.3,476.3 352.8,479.9 353.4,480.5 353.9,481.3 354.5,476.1 355.0,479.7 355.6,484.1 356.1,480.9 356.7,483.4 357.2,481.5 357.8,481.8 358.3,478.6 358.9,480.6 359.4,475.4 359.9,481.3 360.5,475.4 361.0,481.8 361.6,479.6 362.1,477.6 362.7,478.6 363.2,487.6 363.8,477.1 364.3,478.9 364.9,476.5 365.4,473.5 366.0,478.4 366.5,482.1 367.1,480.6 367.6,477.6 368.2,477.5 368.7,480.6 369.3,479.1 369.8,474.6 370.4,476.9 370.9,480.8 371.5,481.8 372.0,481.5 372.6,481.9 373.1,480.8 373.7,485.2 374.2,481.5 374.8,480.5 375.3,479.9 375.9,481.0 376.4,482.6 377.0,479.0 377.5,483.0 378.1,482.4 378.6,485.4 379.1,482.0 379.7,482.6 380.2,482.3 380.8,489.2 381.3,483.8 381.9,486.0 382.4,485.7 383.0,488.8 383.5,486.6 384.1,487.5 384.6,487.3 385.2,487.1 385.7,485.1 386.3,486.9 386.8,486.0 387.4,485.0 387.9,487.3 388.5,485.4 389.0,486.2 389.6,488.9 390.1,480.0 390.7,486.6 391.2,478.8 391.8,484.1 392.3,477.4 392.9,481.6 393.4,478.6 394.0,477.8 394.5,482.5 395.1,479.0 395.6,480.9 396.2,479.1 396.7,484.8 397.3,483.0 397.8,482.9 398.3,487.3 398.9,483.0 399.4,484.2 400.0,483.1 400.5,488.0 401.1,488.2 401.6,482.9 402.2,486.0 402.7,489.0 403.3,488.2 403.8,487.2 404.4,490.0 404.9,482.8 405.5,487.2 406.0,492.3 406.6,484.6 407.1,486.8 407.7,490.0 408.2,491.9 408.8,490.6 409.3,493.3 409.9,491.4 410.4,494.2 411.0,493.9 411.5,491.2 412.1,494.3 412.6,488.9 413.2,486.8 413.7,486.0 414.3,483.5 414.8,489.1 415.4,484.0 415.9,486.7 416.5,484.4 417.0,488.8 417.6,485.8 418.1,480.7 418.6,482.8 419.2,481.8 419.7,481.8 420.3,480.7 420.8,479.4 421.4,480.9 421.9,482.8 422.5,481.3 423.0,478.0 423.6,481.2 424.1,478.3 424.7,478.8 425.2,478.4 425.8,476.2 426.3,475.4 426.9,475.0 427.4,478.1 428.0,472.2 428.5,473.1 429.1,474.5 429.6,474.4 430.2,471.6 430.7,473.3 431.3,467.0 431.8,474.1 432.4,470.2 432.9,469.5 433.5,477.0 434.0,473.6 434.6,471.5 435.1,472.1 435.7,474.4 436.2,472.8 436.8,470.4 437.3,472.6 437.8,473.8 438.4,472.7 438.9,469.7 439.5,475.6 440.0,470.6 440.6,472.6 441.1,473.1 441.7,474.4 442.2,471.7 442.8,473.7 443.3,472.5 443.9,472.3 444.4,475.4 445.0,474.3 445.5,476.9 446.1,476.9 446.6,477.0 447.2,468.0 447.7,480.9 448.3,475.4 448.8,478.6 449.4,480.5 449.9,474.5 450.5,478.4 451.0,481.9 451.6,472.5 452.1,477.6 452.7,478.6 453.2,478.2 453.8,476.3 454.3,479.3 454.9,481.7 455.4,480.0 456.0,475.4 456.5,480.1 457.0,475.9 457.6,480.9 458.1,479.4 458.7,481.0 459.2,477.6 459.8,479.3 460.3,477.2 460.9,478.2 461.4,476.5 462.0,478.2 462.5,480.2 463.1,482.8 463.6,483.2 464.2,481.1 464.7,481.0 465.3,480.7 465.8,483.7 466.4,482.5 466.9,488.0 467.5,483.9 468.0,480.8 468.6,491.0 469.1,488.4 469.7,497.8 470.2,486.1 470.8,494.4 471.3,491.3 471.9,492.4 472.4,494.2 473.0,493.1 473.5,493.3 474.1,489.2 474.6,489.4 475.2,485.1 475.7,490.3 476.2,481.7 476.8,488.0 477.3,479.1 477.9,476.4 478.4,476.5 479.0,474.7 479.5,477.0 480.1,474.9 480.6,473.9 481.2,478.0 481.7,469.6 482.3,477.7 482.8,473.5 483.4,472.1 483.9,483.9 484.5,475.8 485.0,479.7 485.6,480.9 486.1,476.7 486.7,477.6 487.2,478.6 487.8,477.8 488.3,475.9 488.9,479.9 489.4,479.1 490.0,483.4 490.5,478.9 491.1,479.6 491.6,479.7 492.2,470.4 492.7,475.7 493.3,473.1 493.8,475.7 494.4,474.0 494.9,471.7 495.4,468.4 496.0,467.6 496.5,479.1 497.1,473.4 497.6,475.2 498.2,474.5 498.7,473.2 499.3,473.3 499.8,472.5 500.4,470.0 500.9,474.2 501.5,471.2 502.0,473.7 502.6,475.2 503.1,471.4 503.7,476.8 504.2,471.3 504.8,472.3 505.3,476.3 505.9,470.6 506.4,473.7 507.0,469.6 507.5,474.8 508.1,477.5 508.6,477.4 509.2,478.9 509.7,477.3 510.3,479.9 510.8,475.5 511.4,475.2 511.9,474.5 512.5,471.4 513.0,477.7 513.6,476.1 514.1,470.0 514.7,478.1 515.2,474.7 515.7,477.6 516.3,471.9 516.8,480.7 517.4,478.0 517.9,474.9 518.5,476.5 519.0,480.7 519.6,478.9 520.1,474.0 520.7,475.4 521.2,474.8 521.8,482.6 522.3,477.7 522.9,476.9 523.4,470.2 524.0,476.9 524.5,472.7 525.1,481.8 525.6,481.8 526.2,484.5 526.7,483.1 527.3,487.1 527.8,481.8 528.4,487.7 528.9,485.9 529.5,489.2 530.0,491.5 530.6,490.4 531.1,487.8 531.7,482.7 532.2,490.4 532.8,486.1 533.3,490.5 533.9,488.3 534.4,485.5 534.9,487.1 535.5,485.7 536.0,487.8 536.6,483.9 537.1,486.9 537.7,485.9 538.2,487.7 538.8,482.3 539.3,488.0 539.9,482.6 540.4,487.5 541.0,482.5 541.5,486.5 542.1,486.1 542.6,485.8 543.2,484.1 543.7,490.1 544.3,489.3 544.8,493.6 545.4,488.9 545.9,486.8 546.5,492.6 547.0,484.0 547.6,488.3 548.1,487.2 548.7,485.2 549.2,483.9 549.8,483.2 550.3,489.3 550.9,485.9 551.4,479.8 552.0,482.2 552.5,479.5 553.1,478.5 553.6,479.1 554.1,481.5 554.7,479.1 555.2,472.9 555.8,477.7 556.3,478.6 556.9,476.8 557.4,479.5 558.0,476.3 558.5,482.0 559.1,481.0 559.6,481.1 560.2,481.2 560.7,480.3 561.3,488.8 561.8,482.1 562.4,481.6 562.9,483.2 563.5,486.1 564.0,485.1 564.6,475.8 565.1,481.5 565.7,483.7 566.2,479.1 566.8,478.7 567.3,473.4 567.9,477.6 568.4,475.8 569.0,474.8 569.5,472.9 570.1,478.0 570.6,475.4 571.2,480.5 571.7,473.9 572.3,477.5 572.8,476.0 573.3,472.7 573.9,479.4 574.4,472.8 575.0,482.7 575.5,477.1 576.1,476.5 576.6,474.1 577.2,473.0 577.7,474.6 578.3,481.6 578.8,479.9 579.4,479.8 579.9,480.7 580.5,476.0 581.0,468.0 581.6,479.6 582.1,474.8 582.7,479.7 583.2,475.6 583.8,477.9 584.3,475.9 584.9,482.5 585.4,475.6 586.0,476.8 586.5,472.5 587.1,480.6 587.6,475.3 588.2,477.4 588.7,477.0 589.3,482.7 589.8,474.9 590.4,478.4 590.9,481.9 591.5,477.3 592.0,477.3 592.6,478.5 593.1,475.7 593.6,475.6 594.2,477.9 594.7,471.1 595.3,475.9 595.8,471.8 596.4,472.5 596.9,472.5 597.5,470.2 598.0,472.1 598.6,474.6 599.1,472.4 599.7,473.1 600.2,473.6 600.8,473.5 601.3,466.8 601.9,468.6 602.4,464.5 603.0,468.2 603.5,474.2 604.1,467.4 604.6,473.3 605.2,471.2 605.7,477.0 606.3,471.5 606.8,477.6 607.4,482.4 607.9,476.8 608.5,479.0 609.0,476.6 609.6,480.3 610.1,478.3 610.7,477.5 611.2,481.7 611.8,481.9 612.3,479.9 612.8,476.9 613.4,477.2 613.9,476.8 614.5,478.0 615.0,478.4 615.6,478.5 616.1,476.9 616.7,483.0 617.2,480.7 617.8,478.8 618.3,485.9 618.9,482.9 619.4,479.7 620.0,479.2 620.5,472.6 621.1,473.2 621.6,476.3 622.2,468.6 622.7,476.9 623.3,477.0 623.8,473.9 624.4,475.5 624.9,471.4 625.5,475.0 626.0,476.4 626.6,476.1 627.1,476.0 627.7,475.9 628.2,482.9 628.8,480.1 629.3,479.9 629.9,481.0 630.4,485.3 631.0,486.3 631.5,487.3" fill="none" stroke="#c0624d" stroke-width="0.8" stroke-linejoin="round"/>
</svg>
<div class="t" style="left:19.50px;top:43.000px;font:normal 6.2px/6.2px 'Liberation Sans','Noto Sans CJK SC',sans-serif;color:#575757;transform:scaleX(0.882);transform-origin:0 0">Avg(FPS)</div><div class="t" style="left:21.00px;top:58.000px;font:bold 10.5px/10.5px 'Liberation Sans','Noto Sans CJK SC',sans-serif;color:#333;transform:scaleX(0.971);transform-origin:0 0;-webkit-text-stroke:0.25px #333">60.8</div><div class="t" style="left:56.50px;top:43.000px;font:normal 6.2px/6.2px 'Liberation Sans','Noto Sans CJK SC',sans-serif;color:#575757;transform:scaleX(0.957);transform-origin:0 0">Smooth(启帧阻帧)</div><div class="t" style="left:77.00px;top:58.000px;font:bold 10.5px/10.5px 'Liberation Sans','Noto Sans CJK SC',sans-serif;color:#333;transform:scaleX(0.881);transform-origin:0 0;-webkit-text-stroke:0.25px #333">0.1</div><div class="t" style="left:125.00px;top:43.000px;font:normal 6.2px/6.2px 'Liberation Sans','Noto Sans CJK SC',sans-serif;color:#575757;transform:scaleX(0.907);transform-origin:0 0">1%Low(FPS)</div><div class="t" style="left:131.00px;top:58.000px;font:bold 10.5px/10.5px 'Liberation Sans','Noto Sans CJK SC',sans-serif;color:#333;transform:scaleX(0.971);transform-origin:0 0;-webkit-text-stroke:0.25px #333">56.1</div><div class="t" style="left:171.00px;top:43.000px;font:normal 6.2px/6.2px 'Liberation Sans','Noto Sans CJK SC',sans-serif;color:#575757;transform:scaleX(0.867);transform-origin:0 0">Std(FPS)</div><div class="t" style="left:174.50px;top:58.000px;font:bold 10.5px/10.5px 'Liberation Sans','Noto Sans CJK SC',sans-serif;color:#333;transform:scaleX(1.016);transform-origin:0 0;-webkit-text-stroke:0.25px #333">0.5</div><div class="t" style="left:206.00px;top:43.000px;font:normal 6.2px/6.2px 'Liberation Sans','Noto Sans CJK SC',sans-serif;color:#575757;transform:scaleX(0.871);transform-origin:0 0">Var(FPS)</div><div class="t" style="left:209.50px;top:58.000px;font:bold 10.5px/10.5px 'Liberation Sans','Noto Sans CJK SC',sans-serif;color:#333;transform:scaleX(1.016);transform-origin:0 0;-webkit-text-stroke:0.25px #333">0.2</div><div class="t" style="left:241.00px;top:43.000px;font:normal 6.2px/6.2px 'Liberation Sans','Noto Sans CJK SC',sans-serif;color:#575757;transform:scaleX(0.971);transform-origin:0 0">FPS&gt;=18 [%]</div><div class="t" style="left:250.50px;top:58.000px;font:bold 10.5px/10.5px 'Liberation Sans','Noto Sans CJK SC',sans-serif;color:#333;transform:scaleX(0.990);transform-origin:0 0;-webkit-text-stroke:0.25px #333">100</div><div class="t" style="left:289.50px;top:43.000px;font:normal 6.2px/6.2px 'Liberation Sans','Noto Sans CJK SC',sans-serif;color:#575757;transform:scaleX(0.957);transform-origin:0 0">FPS&gt;=25 [%]</div><div class="t" style="left:299.00px;top:58.000px;font:bold 10.5px/10.5px 'Liberation Sans','Noto Sans CJK SC',sans-serif;color:#333;transform:scaleX(1.018);transform-origin:0 0;-webkit-text-stroke:0.25px #333">100</div><div class="t" style="left:338.00px;top:43.000px;font:normal 6.2px/6.2px 'Liberation Sans','Noto Sans CJK SC',sans-serif;color:#575757;transform:scaleX(0.971);transform-origin:0 0">Drop(FPS) [/h]</div><div class="t" style="left:358.25px;top:58.000px;font:bold 10.5px/10.5px 'Liberation Sans','Noto Sans CJK SC',sans-serif;color:#333;-webkit-text-stroke:0.25px #333">0</div><div class="t" style="left:397.00px;top:43.000px;font:normal 6.2px/6.2px 'Liberation Sans','Noto Sans CJK SC',sans-serif;color:#575757;transform:scaleX(0.959);transform-origin:0 0">Min(FPS)</div><div class="t" style="left:403.71px;top:58.000px;font:bold 10.5px/10.5px 'Liberation Sans','Noto Sans CJK SC',sans-serif;color:#333;-webkit-text-stroke:0.25px #333">55</div><div class="t" style="left:433.75px;top:43.000px;font:normal 6.2px/6.2px 'Liberation Sans','Noto Sans CJK SC',sans-serif;color:#575757;transform:scaleX(0.982);transform-origin:0 0">Median(FPS)</div><div class="t" style="left:445.58px;top:58.000px;font:bold 10.5px/10.5px 'Liberation Sans','Noto Sans CJK SC',sans-serif;color:#333;-webkit-text-stroke:0.25px #333">61</div><div class="t" style="left:481.50px;top:43.000px;font:normal 6.2px/6.2px 'Liberation Sans','Noto Sans CJK SC',sans-serif;color:#575757;transform:scaleX(0.943);transform-origin:0 0">MedRange(FPS)[%]</div><div class="t" style="left:498.80px;top:58.000px;font:bold 10.5px/10.5px 'Liberation Sans','Noto Sans CJK SC',sans-serif;color:#333;transform:scaleX(1.007);transform-origin:0 0;-webkit-text-stroke:0.25px #333">100</div><div class="t" style="left:547.00px;top:35.000px;font:normal 6.2px/6.2px 'Liberation Sans','Noto Sans CJK SC',sans-serif;color:#575757;transform:scaleX(0.941);transform-origin:0 0">TinyJank(极微小卡顿)</div><div class="t" style="left:562.70px;top:43.000px;font:normal 6.2px/6.2px 'Liberation Sans','Noto Sans CJK SC',sans-serif;color:#575757;transform:scaleX(1.056);transform-origin:0 0">(/10min)</div><div class="t" style="left:576.80px;top:58.000px;font:bold 10.5px/10.5px 'Liberation Sans','Noto Sans CJK SC',sans-serif;color:#333;-webkit-text-stroke:0.25px #333">-</div><div class="t" style="left:19.50px;top:82.000px;font:normal 6.2px/6.2px 'Liberation Sans','Noto Sans CJK SC',sans-serif;color:#575757;transform:scaleX(0.933);transform-origin:0 0">SmallJank(微小卡顿)</div><div class="t" style="left:34.00px;top:90.000px;font:normal 6.2px/6.2px 'Liberation Sans','Noto Sans CJK SC',sans-serif;color:#575757;transform:scaleX(1.060);transform-origin:0 0">(/10min)</div><div class="t" style="left:43.00px;top:104.000px;font:bold 10.5px/10.5px 'Liberation Sans','Noto Sans CJK SC',sans-serif;color:#333;transform:scaleX(0.949);transform-origin:0 0;-webkit-text-stroke:0.25px #333">7.5</div><div class="t" style="left:93.00px;top:82.000px;font:normal 6.2px/6.2px 'Liberation Sans','Noto Sans CJK SC',sans-serif;color:#575757;transform:scaleX(0.932);transform-origin:0 0">Jank(卡顿)</div><div class="t" style="left:94.50px;top:90.000px;font:normal 6.2px/6.2px 'Liberation Sans','Noto Sans CJK SC',sans-serif;color:#575757;transform:scaleX(1.071);transform-origin:0 0">(/10min)</div><div class="t" style="left:103.00px;top:104.000px;font:bold 10.5px/10.5px 'Liberation Sans','Noto Sans CJK SC',sans-serif;color:#333;transform:scaleX(0.983);transform-origin:0 0;-webkit-text-stroke:0.25px #333">0.3</div><div class="t" style="left:141.00px;top:82.000px;font:normal 6.2px/6.2px 'Liberation Sans','Noto Sans CJK SC',sans-serif;color:#575757;transform:scaleX(0.940);transform-origin:0 0">BigJank(严重卡顿)</div><div class="t" style="left:152.50px;top:90.000px;font:normal 6.2px/6.2px 'Liberation Sans','Noto Sans CJK SC',sans-serif;color:#575757;transform:scaleX(1.105);transform-origin:0 0">(/10min)</div><div class="t" style="left:165.38px;top:104.000px;font:bold 10.5px/10.5px 'Liberation Sans','Noto Sans CJK SC',sans-serif;color:#333;-webkit-text-stroke:0.25px #333">0</div><div class="t" style="left:208.75px;top:90.000px;font:normal 6.2px/6.2px 'Liberation Sans','Noto Sans CJK SC',sans-serif;color:#575757;transform:scaleX(0.979);transform-origin:0 0">Stutter(卡顿率) [%]</div><div class="t" style="left:231.12px;top:104.000px;font:bold 10.5px/10.5px 'Liberation Sans','Noto Sans CJK SC',sans-serif;color:#333;-webkit-text-stroke:0.25px #333">0</div><div class="t" style="left:271.25px;top:90.000px;font:normal 6.2px/6.2px 'Liberation Sans','Noto Sans CJK SC',sans-serif;color:#575757;transform:scaleX(0.986);transform-origin:0 0">Avg(InterFrame)</div><div class="t" style="left:290.50px;top:104.000px;font:bold 10.5px/10.5px 'Liberation Sans','Noto Sans CJK SC',sans-serif;color:#333;-webkit-text-stroke:0.25px #333">0</div><div class="t" style="left:328.00px;top:90.000px;font:normal 6.2px/6.2px 'Liberation Sans','Noto Sans CJK SC',sans-serif;color:#575757;transform:scaleX(0.975);transform-origin:0 0">Avg(FPS+InterFrame)</div><div class="t" style="left:347.50px;top:104.000px;font:bold 10.5px/10.5px 'Liberation Sans','Noto Sans CJK SC',sans-serif;color:#333;-webkit-text-stroke:0.25px #333">60.8</div><div class="t" style="left:400.00px;top:90.000px;font:normal 6.2px/6.2px 'Liberation Sans','Noto Sans CJK SC',sans-serif;color:#575757;transform:scaleX(0.969);transform-origin:0 0">Avg(FTime) [ms]</div><div class="t" style="left:412.00px;top:104.000px;font:bold 10.5px/10.5px 'Liberation Sans','Noto Sans CJK SC',sans-serif;color:#333;transform:scaleX(0.971);transform-origin:0 0;-webkit-text-stroke:0.25px #333">16.5</div><div class="t" style="left:457.00px;top:90.000px;font:normal 6.2px/6.2px 'Liberation Sans','Noto Sans CJK SC',sans-serif;color:#575757;transform:scaleX(0.954);transform-origin:0 0">Std(FTime)</div><div class="t" style="left:464.00px;top:104.000px;font:bold 10.5px/10.5px 'Liberation Sans','Noto Sans CJK SC',sans-serif;color:#333;-webkit-text-stroke:0.25px #333">0.6</div><div class="t" style="left:498.75px;top:90.000px;font:normal 6.2px/6.2px 'Liberation Sans','Noto Sans CJK SC',sans-serif;color:#575757;transform:scaleX(0.958);transform-origin:0 0">Var(FTime)</div><div class="t" style="left:506.25px;top:104.000px;font:bold 10.5px/10.5px 'Liberation Sans','Noto Sans CJK SC',sans-serif;color:#333;transform:scaleX(0.966);transform-origin:0 0;-webkit-text-stroke:0.25px #333">0.4</div><div class="t" style="left:540.75px;top:90.000px;font:normal 6.2px/6.2px 'Liberation Sans','Noto Sans CJK SC',sans-serif;color:#575757">FTime&gt;=100ms [%]</div><div class="t" style="left:564.25px;top:104.000px;font:bold 10.5px/10.5px 'Liberation Sans','Noto Sans CJK SC',sans-serif;color:#333;-webkit-text-stroke:0.25px #333">0</div><div class="t" style="left:18.75px;top:128.000px;font:normal 6.2px/6.2px 'Liberation Sans','Noto Sans CJK SC',sans-serif;color:#575757;transform:scaleX(1.020);transform-origin:0 0">Delta(FTime)&gt;100ms [/h]</div><div class="t" style="left:54.25px;top:142.000px;font:bold 10.5px/10.5px 'Liberation Sans','Noto Sans CJK SC',sans-serif;color:#333;-webkit-text-stroke:0.25px #333">0</div><div class="t" style="left:20.00px;top:363.000px;font:normal 6.2px/6.2px 'Liberation Sans','Noto Sans CJK SC',sans-serif;color:#575757;transform:scaleX(0.987);transform-origin:0 0">Avg(Power) [mW]</div><div class="t" style="left:32.00px;top:378.000px;font:bold 10.5px/10.5px 'Liberation Sans','Noto Sans CJK SC',sans-serif;color:#333;transform:scaleX(0.984);transform-origin:0 0;-webkit-text-stroke:0.25px #333">3620.2</div><div class="t" style="left:88.00px;top:363.000px;font:normal 6.2px/6.2px 'Liberation Sans','Noto Sans CJK SC',sans-serif;color:#575757;transform:scaleX(0.863);transform-origin:0 0">FPower(帧间功耗) [mW]</div><div class="t" style="left:107.50px;top:378.000px;font:bold 10.5px/10.5px 'Liberation Sans','Noto Sans CJK SC',sans-serif;color:#333;transform:scaleX(0.971);transform-origin:0 0;-webkit-text-stroke:0.25px #333">59.6</div><div class="t" style="left:158.75px;top:363.000px;font:normal 6.2px/6.2px 'Liberation Sans','Noto Sans CJK SC',sans-serif;color:#575757;transform:scaleX(0.987);transform-origin:0 0">Sum(Battery)(mWh)</div><div class="t" style="left:170.00px;top:378.000px;font:bold 10.5px/10.5px 'Liberation Sans','Noto Sans CJK SC',sans-serif;color:#333;transform:scaleX(0.991);transform-origin:0 0;-webkit-text-stroke:0.25px #333">1931.8</div><div class="t" style="left:226.25px;top:363.000px;font:normal 6.2px/6.2px 'Liberation Sans','Noto Sans CJK SC',sans-serif;color:#575757">Avg(Voltage) [mV]</div><div class="t" style="left:234.50px;top:378.000px;font:bold 10.5px/10.5px 'Liberation Sans','Noto Sans CJK SC',sans-serif;color:#333;transform:scaleX(1.007);transform-origin:0 0;-webkit-text-stroke:0.25px #333">3941.8</div><div class="t" style="left:288.75px;top:363.000px;font:normal 6.2px/6.2px 'Liberation Sans','Noto Sans CJK SC',sans-serif;color:#575757;transform:scaleX(1.015);transform-origin:0 0">Avg(Current) [mA]</div><div class="t" style="left:300.00px;top:378.000px;font:bold 10.5px/10.5px 'Liberation Sans','Noto Sans CJK SC',sans-serif;color:#333;transform:scaleX(1.040);transform-origin:0 0;-webkit-text-stroke:0.25px #333">918.6</div><div class="t" style="left:351.25px;top:363.000px;font:normal 6.2px/6.2px 'Liberation Sans','Noto Sans CJK SC',sans-serif;color:#575757;transform:scaleX(0.994);transform-origin:0 0">Avg(BatteryLevel)(%)</div><div class="t" style="left:369.50px;top:378.000px;font:bold 10.5px/10.5px 'Liberation Sans','Noto Sans CJK SC',sans-serif;color:#333;transform:scaleX(1.020);transform-origin:0 0;-webkit-text-stroke:0.25px #333">70.4</div><div class="t" style="left:12.70px;top:9.000px;font:bold 9.0px/9.0px 'Liberation Sans','Noto Sans CJK SC',sans-serif;color:#222;transform:scaleX(0.834);transform-origin:0 0">FPS</div><div class="t" style="left:14.10px;top:336.000px;font:bold 8.6px/8.6px 'Liberation Sans','Noto Sans CJK SC',sans-serif;color:#222;transform:scaleX(0.989);transform-origin:0 0">Battery</div><div class="t" style="left:12.00px;top:166.000px;font:bold 7.8px/7.8px 'Liberation Sans','Noto Sans CJK SC',sans-serif;color:#111;transform:scaleX(0.802);transform-origin:0 0">FPS</div><div class="t" style="left:12.70px;top:401.000px;font:bold 7.8px/7.8px 'Liberation Sans','Noto Sans CJK SC',sans-serif;color:#111;transform:scaleX(0.883);transform-origin:0 0">Battery</div><div class="t" style="left:529.50px;top:166.000px;font:normal 6.0px/6.0px 'Liberation Sans','Noto Sans CJK SC',sans-serif;color:#555;transform:scaleX(0.983);transform-origin:0 0">FPS(&gt;=)</div><div class="t" style="left:565.03px;top:166.000px;font:normal 6.0px/6.0px 'Liberation Sans','Noto Sans CJK SC',sans-serif;color:#555">18</div><div class="t" style="left:595.93px;top:166.000px;font:normal 6.0px/6.0px 'Liberation Sans','Noto Sans CJK SC',sans-serif;color:#555">25</div><div class="t" style="left:620.60px;top:167.000px;font:normal 5.6px/5.6px 'Liberation Sans','Noto Sans CJK SC',sans-serif;color:#4a78c8">重置</div><div class="t" style="left:321.90px;top:182.000px;font:normal 6.0px/6.0px 'Liberation Sans','Noto Sans CJK SC',sans-serif;color:#ffffff;transform:scaleX(0.971);transform-origin:0 0">label1</div><div class="t" style="left:322.40px;top:417.000px;font:normal 6.0px/6.0px 'Liberation Sans','Noto Sans CJK SC',sans-serif;color:#ffffff;transform:scaleX(0.971);transform-origin:0 0">label1</div><div class="t" style="left:17.91px;top:207.000px;font:normal 5.2px/5.2px 'Liberation Sans','Noto Sans CJK SC',sans-serif;color:#777">61</div><div class="t" style="left:17.91px;top:216.000px;font:normal 5.2px/5.2px 'Liberation Sans','Noto Sans CJK SC',sans-serif;color:#777">55</div><div class="t" style="left:17.91px;top:226.000px;font:normal 5.2px/5.2px 'Liberation Sans','Noto Sans CJK SC',sans-serif;color:#777">48</div><div class="t" style="left:17.91px;top:235.000px;font:normal 5.2px/5.2px 'Liberation Sans','Noto Sans CJK SC',sans-serif;color:#777">42</div><div class="t" style="left:17.91px;top:244.000px;font:normal 5.2px/5.2px 'Liberation Sans','Noto Sans CJK SC',sans-serif;color:#777">36</div><div class="t" style="left:17.91px;top:253.000px;font:normal 5.2px/5.2px 'Liberation Sans','Noto Sans CJK SC',sans-serif;color:#777">30</div><div class="t" style="left:17.91px;top:262.000px;font:normal 5.2px/5.2px 'Liberation Sans','Noto Sans CJK SC',sans-serif;color:#777">24</div><div class="t" style="left:17.91px;top:270.000px;font:normal 5.2px/5.2px 'Liberation Sans','Noto Sans CJK SC',sans-serif;color:#777">18</div><div class="t" style="left:17.91px;top:279.000px;font:normal 5.2px/5.2px 'Liberation Sans','Noto Sans CJK SC',sans-serif;color:#777">12</div><div class="t" style="left:20.80px;top:288.000px;font:normal 5.2px/5.2px 'Liberation Sans','Noto Sans CJK SC',sans-serif;color:#777">6</div><div class="t" style="left:20.80px;top:297.000px;font:normal 5.2px/5.2px 'Liberation Sans','Noto Sans CJK SC',sans-serif;color:#777">0</div><div class="t" style="left:636.80px;top:197.000px;font:normal 5.2px/5.2px 'Liberation Sans','Noto Sans CJK SC',sans-serif;color:#777">1</div><div class="t" style="left:636.80px;top:297.000px;font:normal 5.2px/5.2px 'Liberation Sans','Noto Sans CJK SC',sans-serif;color:#777">0</div><div class="t" style="left:12.74px;top:433.000px;font:normal 5.2px/5.2px 'Liberation Sans','Noto Sans CJK SC',sans-serif;color:#777">6644</div><div class="t" style="left:12.74px;top:442.000px;font:normal 5.2px/5.2px 'Liberation Sans','Noto Sans CJK SC',sans-serif;color:#777">6040</div><div class="t" style="left:12.74px;top:451.000px;font:normal 5.2px/5.2px 'Liberation Sans','Noto Sans CJK SC',sans-serif;color:#777">5436</div><div class="t" style="left:12.74px;top:460.000px;font:normal 5.2px/5.2px 'Liberation Sans','Noto Sans CJK SC',sans-serif;color:#777">4832</div><div class="t" style="left:12.74px;top:469.000px;font:normal 5.2px/5.2px 'Liberation Sans','Noto Sans CJK SC',sans-serif;color:#777">4228</div><div class="t" style="left:12.74px;top:478.000px;font:normal 5.2px/5.2px 'Liberation Sans','Noto Sans CJK SC',sans-serif;color:#777">3624</div><div class="t" style="left:12.74px;top:487.000px;font:normal 5.2px/5.2px 'Liberation Sans','Noto Sans CJK SC',sans-serif;color:#777">3020</div><div class="t" style="left:12.74px;top:496.000px;font:normal 5.2px/5.2px 'Liberation Sans','Noto Sans CJK SC',sans-serif;color:#777">2416</div><div class="t" style="left:12.74px;top:505.000px;font:normal 5.2px/5.2px 'Liberation Sans','Noto Sans CJK SC',sans-serif;color:#777">1812</div><div class="t" style="left:12.74px;top:514.000px;font:normal 5.2px/5.2px 'Liberation Sans','Noto Sans CJK SC',sans-serif;color:#777">1208</div><div class="t" style="left:15.63px;top:523.000px;font:normal 5.2px/5.2px 'Liberation Sans','Noto Sans CJK SC',sans-serif;color:#777">604</div><div class="t" style="left:21.40px;top:532.000px;font:normal 5.2px/5.2px 'Liberation Sans','Noto Sans CJK SC',sans-serif;color:#777">0</div><div class="t" style="left:28.80px;top:304.000px;font:normal 5.2px/5.2px 'Liberation Sans','Noto Sans CJK SC',sans-serif;color:#777">00:00</div><div class="t" style="left:29.50px;top:538.000px;font:normal 5.2px/5.2px 'Liberation Sans','Noto Sans CJK SC',sans-serif;color:#777">00:00</div><div class="t" style="left:53.95px;top:304.000px;font:normal 5.2px/5.2px 'Liberation Sans','Noto Sans CJK SC',sans-serif;color:#777">01:42</div><div class="t" style="left:54.75px;top:538.000px;font:normal 5.2px/5.2px 'Liberation Sans','Noto Sans CJK SC',sans-serif;color:#777">01:42</div><div class="t" style="left:86.04px;top:304.000px;font:normal 5.2px/5.2px 'Liberation Sans','Noto Sans CJK SC',sans-serif;color:#777">03:24</div><div class="t" style="left:86.84px;top:538.000px;font:normal 5.2px/5.2px 'Liberation Sans','Noto Sans CJK SC',sans-serif;color:#777">03:24</div><div class="t" style="left:118.13px;top:304.000px;font:normal 5.2px/5.2px 'Liberation Sans','Noto Sans CJK SC',sans-serif;color:#777">05:06</div><div class="t" style="left:118.93px;top:538.000px;font:normal 5.2px/5.2px 'Liberation Sans','Noto Sans CJK SC',sans-serif;color:#777">05:06</div><div class="t" style="left:150.22px;top:304.000px;font:normal 5.2px/5.2px 'Liberation Sans','Noto Sans CJK SC',sans-serif;color:#777">06:48</div><div class="t" style="left:151.02px;top:538.000px;font:normal 5.2px/5.2px 'Liberation Sans','Noto Sans CJK SC',sans-serif;color:#777">06:48</div><div class="t" style="left:182.30px;top:304.000px;font:normal 5.2px/5.2px 'Liberation Sans','Noto Sans CJK SC',sans-serif;color:#777">08:30</div><div class="t" style="left:183.10px;top:538.000px;font:normal 5.2px/5.2px 'Liberation Sans','Noto Sans CJK SC',sans-serif;color:#777">08:30</div><div class="t" style="left:214.39px;top:304.000px;font:normal 5.2px/5.2px 'Liberation Sans','Noto Sans CJK SC',sans-serif;color:#777">10:12</div><div class="t" style="left:215.19px;top:538.000px;font:normal 5.2px/5.2px 'Liberation Sans','Noto Sans CJK SC',sans-serif;color:#777">10:12</div><div class="t" style="left:246.67px;top:304.000px;font:normal 5.2px/5.2px 'Liberation Sans','Noto Sans CJK SC',sans-serif;color:#777">11:54</div><div class="t" style="left:247.47px;top:538.000px;font:normal 5.2px/5.2px 'Liberation Sans','Noto Sans CJK SC',sans-serif;color:#777">11:54</div><div class="t" style="left:278.57px;top:304.000px;font:normal 5.2px/5.2px 'Liberation Sans','Noto Sans CJK SC',sans-serif;color:#777">13:36</div><div class="t" style="left:279.37px;top:538.000px;font:normal 5.2px/5.2px 'Liberation Sans','Noto Sans CJK SC',sans-serif;color:#777">13:36</div><div class="t" style="left:310.66px;top:304.000px;font:normal 5.2px/5.2px 'Liberation Sans','Noto Sans CJK SC',sans-serif;color:#777">15:18</div><div class="t" style="left:311.46px;top:538.000px;font:normal 5.2px/5.2px 'Liberation Sans','Noto Sans CJK SC',sans-serif;color:#777">15:18</div><div class="t" style="left:342.75px;top:304.000px;font:normal 5.2px/5.2px 'Liberation Sans','Noto Sans CJK SC',sans-serif;color:#777">17:00</div><div class="t" style="left:343.55px;top:538.000px;font:normal 5.2px/5.2px 'Liberation Sans','Noto Sans CJK SC',sans-serif;color:#777">17:00</div><div class="t" style="left:374.83px;top:304.000px;font:normal 5.2px/5.2px 'Liberation Sans','Noto Sans CJK SC',sans-serif;color:#777">18:42</div><div class="t" style="left:375.63px;top:538.000px;font:normal 5.2px/5.2px 'Liberation Sans','Noto Sans CJK SC',sans-serif;color:#777">18:42</div><div class="t" style="left:406.92px;top:304.000px;font:normal 5.2px/5.2px 'Liberation Sans','Noto Sans CJK SC',sans-serif;color:#777">20:24</div><div class="t" style="left:407.72px;top:538.000px;font:normal 5.2px/5.2px 'Liberation Sans','Noto Sans CJK SC',sans-serif;color:#777">20:24</div><div class="t" style="left:439.01px;top:304.000px;font:normal 5.2px/5.2px 'Liberation Sans','Noto Sans CJK SC',sans-serif;color:#777">22:06</div><div class="t" style="left:439.81px;top:538.000px;font:normal 5.2px/5.2px 'Liberation Sans','Noto Sans CJK SC',sans-serif;color:#777">22:06</div><div class="t" style="left:471.10px;top:304.000px;font:normal 5.2px/5.2px 'Liberation Sans','Noto Sans CJK SC',sans-serif;color:#777">23:48</div><div class="t" style="left:471.90px;top:538.000px;font:normal 5.2px/5.2px 'Liberation Sans','Noto Sans CJK SC',sans-serif;color:#777">23:48</div><div class="t" style="left:503.19px;top:304.000px;font:normal 5.2px/5.2px 'Liberation Sans','Noto Sans CJK SC',sans-serif;color:#777">25:30</div><div class="t" style="left:503.99px;top:538.000px;font:normal 5.2px/5.2px 'Liberation Sans','Noto Sans CJK SC',sans-serif;color:#777">25:30</div><div class="t" style="left:535.28px;top:304.000px;font:normal 5.2px/5.2px 'Liberation Sans','Noto Sans CJK SC',sans-serif;color:#777">27:12</div><div class="t" style="left:536.08px;top:538.000px;font:normal 5.2px/5.2px 'Liberation Sans','Noto Sans CJK SC',sans-serif;color:#777">27:12</div><div class="t" style="left:567.36px;top:304.000px;font:normal 5.2px/5.2px 'Liberation Sans','Noto Sans CJK SC',sans-serif;color:#777">28:54</div><div class="t" style="left:568.16px;top:538.000px;font:normal 5.2px/5.2px 'Liberation Sans','Noto Sans CJK SC',sans-serif;color:#777">28:54</div><div class="t" style="left:599.45px;top:304.000px;font:normal 5.2px/5.2px 'Liberation Sans','Noto Sans CJK SC',sans-serif;color:#777">30:36</div><div class="t" style="left:600.25px;top:538.000px;font:normal 5.2px/5.2px 'Liberation Sans','Noto Sans CJK SC',sans-serif;color:#777">30:36</div><div class="t" style="left:194.20px;top:323.000px;font:normal 5.0px/5.0px 'Liberation Sans','Noto Sans CJK SC',sans-serif;color:#555;transform:scaleX(0.809);transform-origin:0 0">FPS</div><div class="t" style="left:221.50px;top:323.000px;font:normal 5.0px/5.0px 'Liberation Sans','Noto Sans CJK SC',sans-serif;color:#c2c2c2;transform:scaleX(1.089);transform-origin:0 0">Smooth</div><div class="t" style="left:260.50px;top:323.000px;font:normal 5.0px/5.0px 'Liberation Sans','Noto Sans CJK SC',sans-serif;color:#c2c2c2;transform:scaleX(0.963);transform-origin:0 0">1%Low(FPS)</div><div class="t" style="left:308.00px;top:323.000px;font:normal 5.0px/5.0px 'Liberation Sans','Noto Sans CJK SC',sans-serif;color:#c2c2c2;transform:scaleX(0.976);transform-origin:0 0">SmallJank</div><div class="t" style="left:350.00px;top:323.000px;font:normal 5.0px/5.0px 'Liberation Sans','Noto Sans CJK SC',sans-serif;color:#c2c2c2;transform:scaleX(0.904);transform-origin:0 0">Jank</div><div class="t" style="left:379.50px;top:323.000px;font:normal 5.0px/5.0px 'Liberation Sans','Noto Sans CJK SC',sans-serif;color:#c2c2c2">BigJank</div><div class="t" style="left:417.50px;top:323.000px;font:normal 5.0px/5.0px 'Liberation Sans','Noto Sans CJK SC',sans-serif;color:#c2c2c2;transform:scaleX(1.055);transform-origin:0 0">Stutter</div><div class="t" style="left:452.70px;top:323.000px;font:normal 5.0px/5.0px 'Liberation Sans','Noto Sans CJK SC',sans-serif;color:#c2c2c2;transform:scaleX(1.062);transform-origin:0 0">InterFrame</div><div class="t" style="left:272.70px;top:558.000px;font:normal 5.3px/5.3px 'Liberation Sans','Noto Sans CJK SC',sans-serif;color:#555;transform:scaleX(0.931);transform-origin:0 0">Power</div><div class="t" style="left:306.20px;top:558.000px;font:normal 5.3px/5.3px 'Liberation Sans','Noto Sans CJK SC',sans-serif;color:#555;transform:scaleX(0.936);transform-origin:0 0">FPower</div><div class="t" style="left:342.80px;top:558.000px;font:normal 5.3px/5.3px 'Liberation Sans','Noto Sans CJK SC',sans-serif;color:#555;transform:scaleX(1.015);transform-origin:0 0">Voltage</div><div class="t" style="left:379.40px;top:558.000px;font:normal 5.3px/5.3px 'Liberation Sans','Noto Sans CJK SC',sans-serif;color:#555;transform:scaleX(0.990);transform-origin:0 0">Current</div><div class="t" style="left:600.05px;top:324.000px;font:normal 4.8px/4.8px 'Liberation Sans','Noto Sans CJK SC',sans-serif;color:#6d7593;transform:scaleX(0.994);transform-origin:0 0">全选中</div><div class="t" style="left:600.00px;top:558.000px;font:normal 4.8px/4.8px 'Liberation Sans','Noto Sans CJK SC',sans-serif;color:#6d7593;transform:scaleX(1.014);transform-origin:0 0">全选中</div><div class="t" style="left:6.03px;top:251.00px;font:bold 5.6px/5.6px 'Liberation Sans','Noto Sans CJK SC',sans-serif;color:#222;transform:rotate(-90deg);transform-origin:5.57px 2.80px">FPS</div><div class="t" style="left:638.78px;top:240.90px;font:bold 5.6px/5.6px 'Liberation Sans','Noto Sans CJK SC',sans-serif;color:#222;transform:rotate(90deg);transform-origin:6.82px 2.80px">Jank</div><div class="t" style="left:-2.49px;top:490.90px;font:bold 5.4px/5.4px 'Liberation Sans','Noto Sans CJK SC',sans-serif;color:#222;transform:rotate(-90deg);transform-origin:9.29px 2.70px">Battery</div>
</body></html>
